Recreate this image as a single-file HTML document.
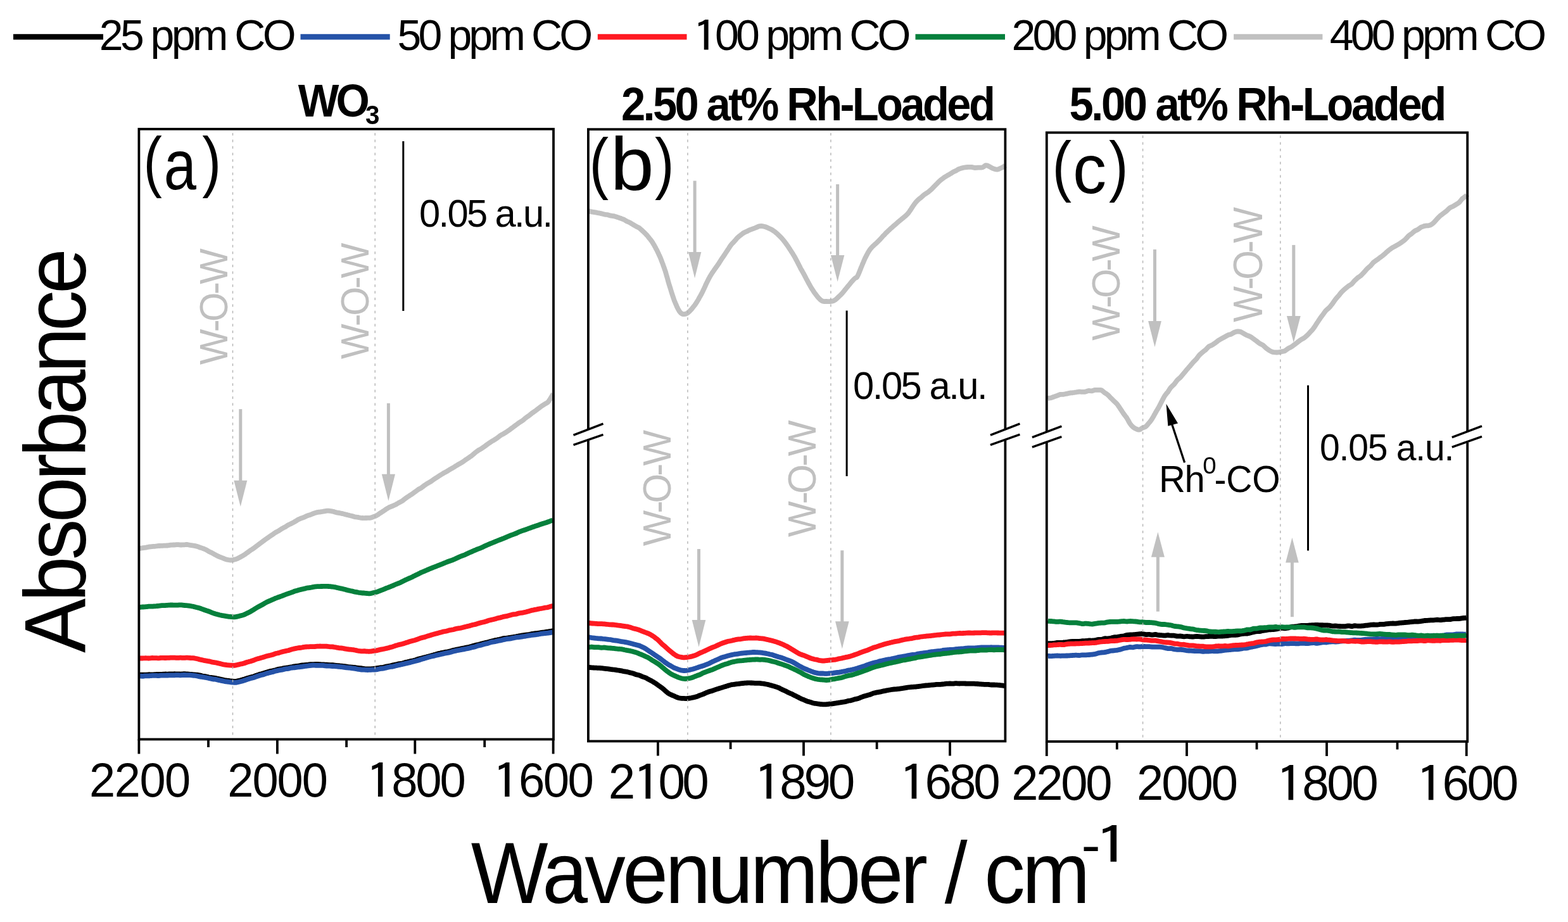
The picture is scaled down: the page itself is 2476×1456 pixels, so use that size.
<!DOCTYPE html>
<html><head><meta charset="utf-8"><title>FTIR spectra</title>
<style>html,body{margin:0;padding:0;background:#fff;overflow:hidden;} svg{display:block;}</style></head>
<body><svg width="2476" height="1456" viewBox="0 0 2476 1456">
<rect width="2476" height="1456" fill="#fff"/>
<rect x="21" y="53.8" width="142.0" height="8.8" fill="#000000"/>
<text transform="matrix(0.9997 0 0 1 156.80 78.90)" font-family='"Liberation Sans", Arial, Helvetica, sans-serif' font-weight="normal" font-size="68.00" letter-spacing="-4.60" fill="#000">25 ppm CO</text>
<rect x="474.5" y="53.8" width="141.2" height="8.8" fill="#2553A8"/>
<text transform="matrix(1.0005 0 0 1 627.58 78.90)" font-family='"Liberation Sans", Arial, Helvetica, sans-serif' font-weight="normal" font-size="68.00" letter-spacing="-4.91" fill="#000">50 ppm CO</text>
<rect x="943.8" y="53.8" width="140.7" height="8.8" fill="#FF1A22"/>
<text transform="matrix(1.0010 0 0 1 1092.93 78.90)" font-family='"Liberation Sans", Arial, Helvetica, sans-serif' font-weight="normal" font-size="68.00" letter-spacing="-4.80" fill="#000"><tspan font-family="IPAGothic" baseline-shift="-0.05em" textLength="0.5294em" lengthAdjust="spacingAndGlyphs">1</tspan>00 ppm CO</text>
<rect x="1445.5" y="53.8" width="141.5" height="8.8" fill="#06803C"/>
<text transform="matrix(0.9998 0 0 1 1597.40 78.90)" font-family='"Liberation Sans", Arial, Helvetica, sans-serif' font-weight="normal" font-size="68.00" letter-spacing="-4.73" fill="#000">200 ppm CO</text>
<rect x="1948.1" y="53.8" width="140.3" height="8.8" fill="#C0C0C0"/>
<text transform="matrix(0.9996 0 0 1 2099.70 78.90)" font-family='"Liberation Sans", Arial, Helvetica, sans-serif' font-weight="normal" font-size="68.00" letter-spacing="-4.77" fill="#000">400 ppm CO</text>
<text transform="matrix(0.9496 0 0 1 470.70 184.20)" font-family='"Liberation Sans", Arial, Helvetica, sans-serif' font-weight="bold" font-size="72.14" letter-spacing="-5.09" fill="#000">WO</text>
<text transform="matrix(0.9344 0 0 1 576.99 195.87)" font-family='"Liberation Sans", Arial, Helvetica, sans-serif' font-weight="bold" font-size="43.24" fill="#000">3</text>
<text transform="matrix(0.9299 0 0 1 980.90 189.80)" font-family='"Liberation Sans", Arial, Helvetica, sans-serif' font-weight="bold" font-size="73.86" letter-spacing="-3.89" fill="#000">2.50 at% Rh-Loaded</text>
<text transform="matrix(0.9298 0 0 1 1688.44 189.80)" font-family='"Liberation Sans", Arial, Helvetica, sans-serif' font-weight="bold" font-size="74.00" letter-spacing="-3.66" fill="#000">5.00 at% Rh-Loaded</text>
<path d="M220.3,1065.9L221.1,1065.8L222.0,1065.7L222.9,1065.7L223.9,1065.6L225.0,1065.6L226.1,1065.6L227.3,1065.6L228.6,1065.7L229.9,1065.7L231.2,1065.6L232.7,1065.5L234.1,1065.3L235.6,1065.2L237.1,1065.3L238.7,1065.3L240.3,1065.4L242.0,1065.3L243.7,1065.2L245.4,1065.1L247.1,1065.0L248.8,1064.9L250.6,1064.8L252.4,1064.8L254.2,1064.9L256.0,1064.9L257.8,1064.7L259.6,1064.6L261.4,1064.5L263.2,1064.6L265.0,1064.6L266.8,1064.5L268.6,1064.4L270.4,1064.3L272.1,1064.3L273.9,1064.3L275.6,1064.2L277.3,1064.3L279.0,1064.3L280.6,1064.4L282.2,1064.4L283.8,1064.5L285.3,1064.6L286.8,1064.4L288.3,1064.3L289.7,1064.2L291.0,1064.2L292.3,1064.2L293.6,1064.3L294.8,1064.3L295.9,1064.4L298.2,1064.6L300.4,1064.8L302.4,1065.0L304.3,1065.2L306.1,1065.4L307.8,1065.5L309.4,1065.6L310.9,1065.7L312.3,1065.9L313.7,1066.1L315.0,1066.3L316.3,1066.6L317.5,1066.9L318.7,1067.3L319.9,1067.6L321.1,1067.8L322.3,1067.9L323.5,1068.1L324.8,1068.2L326.0,1068.5L327.4,1068.8L328.7,1069.2L330.2,1069.6L331.7,1069.8L333.2,1069.9L334.8,1070.1L336.4,1070.3L338.0,1070.6L339.6,1070.9L341.2,1071.2L342.8,1071.5L344.4,1071.8L346.0,1072.2L347.6,1072.5L349.2,1072.9L350.8,1073.2L352.3,1073.6L353.8,1074.0L355.3,1074.4L356.8,1074.5L358.2,1074.6L359.5,1074.8L360.9,1074.9L362.1,1075.1L363.3,1075.3L364.5,1075.5L366.6,1075.7L368.2,1075.9L369.5,1076.0L370.6,1076.1L371.5,1076.1L372.5,1076.0L373.6,1075.7L375.0,1075.4L376.7,1075.0L378.9,1074.5L381.7,1073.7L382.7,1073.4L383.8,1073.1L384.9,1072.7L386.0,1072.4L387.3,1072.0L388.5,1071.6L389.8,1071.2L391.1,1070.8L392.5,1070.4L393.9,1070.0L395.4,1069.6L396.8,1069.2L398.3,1068.8L399.8,1068.4L401.4,1067.9L402.9,1067.3L404.5,1066.8L406.1,1066.2L407.7,1065.7L409.3,1065.1L411.0,1064.6L412.6,1064.2L414.2,1063.7L415.9,1063.2L417.5,1062.7L419.1,1062.2L420.7,1061.7L422.4,1061.2L424.0,1060.7L425.5,1060.3L427.1,1059.9L428.7,1059.6L430.2,1059.3L431.7,1058.9L433.2,1058.5L434.7,1058.2L436.3,1057.8L437.8,1057.3L439.4,1056.9L440.9,1056.6L442.5,1056.3L444.1,1056.0L445.7,1055.8L447.3,1055.4L448.9,1055.1L450.5,1054.8L452.1,1054.6L453.7,1054.4L455.3,1054.2L456.9,1053.9L458.4,1053.6L460.0,1053.3L461.6,1053.0L463.2,1052.6L464.7,1052.3L466.3,1052.1L467.8,1052.0L469.3,1051.9L470.8,1051.7L472.3,1051.4L473.8,1051.0L475.2,1050.7L476.6,1050.5L478.0,1050.4L479.4,1050.3L480.8,1050.2L482.1,1050.1L483.4,1050.0L484.7,1049.9L486.6,1049.7L488.5,1049.4L490.3,1049.1L492.0,1049.1L493.7,1049.1L495.3,1049.1L496.9,1049.0L498.5,1048.8L500.0,1048.8L501.5,1048.8L503.0,1049.0L504.4,1049.1L505.9,1049.2L507.3,1049.3L508.8,1049.4L510.2,1049.5L511.6,1049.5L513.1,1049.6L514.6,1049.6L516.0,1049.7L517.6,1049.8L519.1,1050.0L520.7,1050.1L522.2,1050.1L523.8,1050.1L525.3,1050.1L526.9,1050.3L528.5,1050.5L530.0,1050.8L531.6,1050.9L533.1,1051.1L534.7,1051.2L536.3,1051.4L537.8,1051.6L539.4,1051.7L540.9,1051.9L542.5,1052.1L544.0,1052.2L545.6,1052.4L547.2,1052.6L548.7,1052.9L550.3,1053.1L551.8,1053.3L553.4,1053.4L554.9,1053.6L556.5,1053.7L557.9,1053.8L559.4,1053.9L560.9,1054.1L562.3,1054.4L563.7,1054.6L565.1,1054.9L566.6,1055.0L568.0,1055.1L569.5,1055.2L570.9,1055.4L572.4,1055.7L574.0,1055.9L575.5,1056.2L577.1,1056.3L578.7,1056.3L580.4,1056.3L582.1,1056.4L583.9,1056.5L585.8,1056.4L587.7,1056.2L589.0,1056.1L590.3,1056.0L591.6,1055.7L593.0,1055.5L594.4,1055.2L595.8,1055.0L597.2,1054.8L598.7,1054.6L600.1,1054.4L601.6,1054.2L603.1,1054.0L604.6,1053.8L606.2,1053.5L607.7,1053.1L609.3,1052.6L610.8,1052.3L612.4,1052.1L614.0,1051.8L615.6,1051.6L617.2,1051.2L618.8,1050.8L620.4,1050.4L622.0,1050.0L623.6,1049.7L625.2,1049.3L626.8,1049.0L628.4,1048.6L630.0,1048.2L631.6,1048.0L633.1,1047.8L634.7,1047.6L636.2,1047.2L637.8,1046.7L639.3,1046.3L640.8,1045.8L642.2,1045.5L643.7,1045.2L645.2,1044.8L646.7,1044.5L648.1,1044.1L649.6,1043.8L651.1,1043.5L652.5,1043.2L654.0,1042.8L655.5,1042.5L657.0,1041.9L658.4,1041.4L659.9,1040.8L661.4,1040.4L662.8,1040.1L664.3,1039.7L665.8,1039.4L667.3,1039.0L668.7,1038.6L670.2,1038.2L671.7,1037.8L673.1,1037.5L674.6,1037.1L676.1,1036.7L677.6,1036.3L679.0,1035.9L680.5,1035.5L682.0,1035.1L683.4,1034.7L684.9,1034.3L686.4,1033.8L687.9,1033.4L689.3,1032.9L690.8,1032.5L692.3,1032.1L693.7,1031.8L695.2,1031.5L696.7,1031.1L698.2,1030.8L699.6,1030.5L701.1,1030.2L702.6,1029.9L704.0,1029.7L705.5,1029.5L707.0,1029.2L708.5,1028.9L709.9,1028.6L711.4,1028.1L712.9,1027.7L714.3,1027.2L715.8,1026.8L717.3,1026.5L718.8,1026.2L720.2,1025.9L721.7,1025.6L723.2,1025.3L724.6,1025.0L726.1,1024.7L727.6,1024.4L729.1,1024.1L730.5,1023.8L732.0,1023.5L733.5,1023.2L734.9,1022.9L736.4,1022.6L737.9,1022.3L739.4,1022.0L740.8,1021.7L742.3,1021.3L743.8,1020.9L745.2,1020.5L746.6,1020.1L748.0,1019.7L749.4,1019.3L750.8,1018.9L752.2,1018.6L753.5,1018.3L754.9,1018.0L756.2,1017.7L757.6,1017.3L758.9,1017.0L760.2,1016.6L761.6,1016.2L762.9,1015.9L764.3,1015.6L765.6,1015.2L767.0,1014.9L768.4,1014.6L769.8,1014.3L771.2,1013.9L772.7,1013.5L774.1,1013.1L775.6,1012.7L777.1,1012.3L778.6,1011.9L780.2,1011.5L781.7,1011.1L783.4,1010.8L785.0,1010.5L786.7,1010.1L788.4,1009.8L790.2,1009.4L792.0,1008.9L793.8,1008.4L795.1,1008.1L796.4,1008.0L797.7,1007.9L799.1,1007.8L800.5,1007.6L802.0,1007.4L803.5,1007.1L805.0,1006.8L806.6,1006.6L808.1,1006.3L809.8,1006.1L811.4,1005.8L813.0,1005.5L814.7,1005.3L816.4,1004.9L818.1,1004.6L819.9,1004.2L821.6,1004.0L823.3,1003.7L825.1,1003.4L826.9,1003.1L828.6,1002.8L830.4,1002.5L832.1,1002.3L833.9,1002.2L835.6,1002.0L837.4,1001.6L839.1,1001.2L840.8,1000.9L842.5,1000.7L844.2,1000.4L845.9,1000.2L847.5,1000.0L849.2,999.8L850.8,999.6L852.3,999.4L853.9,999.1L855.4,998.9L856.9,998.7L858.3,998.6L859.7,998.4L861.1,998.2L862.4,997.9L863.7,997.7L864.9,997.5L866.1,997.3L867.2,997.1L868.3,997.0L869.3,996.8L870.3,996.7L871.2,996.6L872.0,996.4L872.8,996.6" fill="none" stroke="#000000" stroke-width="7.8" stroke-linejoin="round" stroke-linecap="butt"/>
<path d="M220.3,1067.7L221.1,1067.6L222.0,1067.6L222.9,1067.7L223.9,1067.8L225.0,1067.8L226.1,1067.8L227.3,1067.6L228.6,1067.4L229.9,1067.3L231.2,1067.3L232.7,1067.3L234.1,1067.4L235.6,1067.4L237.1,1067.2L238.7,1067.1L240.3,1066.9L242.0,1066.9L243.7,1066.9L245.4,1066.8L247.1,1066.9L248.8,1067.1L250.6,1067.1L252.4,1066.9L254.2,1066.7L256.0,1066.6L257.8,1066.6L259.6,1066.6L261.4,1066.6L263.2,1066.5L265.0,1066.5L266.8,1066.4L268.6,1066.4L270.4,1066.3L272.1,1066.3L273.9,1066.3L275.6,1066.3L277.3,1066.2L279.0,1066.1L280.6,1066.1L282.2,1066.2L283.8,1066.3L285.3,1066.4L286.8,1066.2L288.3,1066.1L289.7,1066.0L291.0,1066.0L292.3,1066.0L293.6,1066.1L294.8,1066.1L295.9,1066.1L298.2,1066.2L300.4,1066.2L302.4,1066.4L304.3,1066.6L306.1,1066.8L307.8,1067.0L309.4,1067.2L310.9,1067.5L312.3,1067.8L313.7,1068.1L315.0,1068.4L316.3,1068.6L317.5,1068.8L318.7,1068.9L319.9,1069.1L321.1,1069.3L322.3,1069.5L323.5,1069.8L324.8,1070.0L326.0,1070.2L327.4,1070.5L328.7,1070.8L330.2,1071.1L331.7,1071.4L333.2,1071.8L334.8,1072.2L336.4,1072.5L338.0,1072.6L339.6,1072.7L341.2,1073.0L342.8,1073.4L344.4,1073.9L346.0,1074.2L347.6,1074.5L349.2,1074.8L350.8,1075.1L352.3,1075.4L353.8,1075.8L355.3,1076.1L356.8,1076.3L358.2,1076.5L359.5,1076.6L360.9,1076.8L362.1,1077.0L363.3,1077.2L364.5,1077.4L366.6,1077.6L368.2,1077.7L369.5,1077.8L370.6,1077.8L371.5,1077.8L372.5,1077.8L373.6,1077.6L375.0,1077.3L376.7,1077.0L378.9,1076.5L381.7,1075.8L382.7,1075.5L383.8,1075.2L384.9,1074.8L386.0,1074.4L387.3,1074.0L388.5,1073.6L389.8,1073.1L391.1,1072.7L392.5,1072.2L393.9,1071.8L395.4,1071.3L396.8,1071.0L398.3,1070.6L399.8,1070.3L401.4,1069.8L402.9,1069.2L404.5,1068.6L406.1,1068.0L407.7,1067.5L409.3,1066.9L411.0,1066.4L412.6,1066.0L414.2,1065.7L415.9,1065.2L417.5,1064.7L419.1,1064.1L420.7,1063.6L422.4,1063.1L424.0,1062.7L425.5,1062.3L427.1,1061.9L428.7,1061.5L430.2,1061.2L431.7,1060.7L433.2,1060.2L434.7,1059.8L436.3,1059.4L437.8,1059.1L439.4,1058.7L440.9,1058.4L442.5,1058.2L444.1,1058.0L445.7,1057.7L447.3,1057.3L448.9,1056.8L450.5,1056.4L452.1,1056.2L453.7,1056.1L455.3,1055.9L456.9,1055.5L458.4,1055.1L460.0,1054.7L461.6,1054.5L463.2,1054.4L464.7,1054.3L466.3,1054.1L467.8,1053.8L469.3,1053.6L470.8,1053.4L472.3,1053.3L473.8,1053.1L475.2,1053.0L476.6,1052.8L478.0,1052.6L479.4,1052.4L480.8,1052.2L482.1,1052.0L483.4,1051.8L484.7,1051.6L486.6,1051.4L488.5,1051.1L490.3,1051.0L492.0,1050.8L493.7,1050.7L495.3,1050.7L496.9,1050.7L498.5,1050.8L500.0,1050.8L501.5,1050.8L503.0,1050.9L504.4,1050.9L505.9,1050.9L507.3,1050.9L508.8,1050.9L510.2,1050.9L511.6,1051.1L513.1,1051.3L514.6,1051.5L516.0,1051.6L517.6,1051.7L519.1,1051.7L520.7,1051.7L522.2,1051.8L523.8,1052.0L525.3,1052.1L526.9,1052.2L528.5,1052.2L530.0,1052.3L531.6,1052.4L533.1,1052.6L534.7,1052.8L536.3,1052.9L537.8,1053.1L539.4,1053.2L540.9,1053.4L542.5,1053.6L544.0,1053.9L545.6,1054.1L547.2,1054.3L548.7,1054.4L550.3,1054.6L551.8,1054.7L553.4,1054.9L554.9,1055.1L556.5,1055.3L557.9,1055.5L559.4,1055.6L560.9,1055.9L562.3,1056.2L563.7,1056.5L565.1,1056.8L566.6,1057.0L568.0,1057.2L569.5,1057.4L570.9,1057.6L572.4,1057.6L574.0,1057.6L575.5,1057.7L577.1,1057.8L578.7,1057.9L580.4,1058.0L582.1,1057.9L583.9,1057.9L585.8,1057.8L587.7,1057.7L589.0,1057.7L590.3,1057.7L591.6,1057.6L593.0,1057.5L594.4,1057.3L595.8,1057.1L597.2,1056.8L598.7,1056.5L600.1,1056.1L601.6,1055.9L603.1,1055.8L604.6,1055.6L606.2,1055.3L607.7,1055.0L609.3,1054.6L610.8,1054.2L612.4,1053.8L614.0,1053.5L615.6,1053.1L617.2,1052.9L618.8,1052.8L620.4,1052.6L622.0,1052.1L623.6,1051.7L625.2,1051.3L626.8,1050.9L628.4,1050.5L630.0,1050.1L631.6,1049.8L633.1,1049.5L634.7,1049.2L636.2,1048.8L637.8,1048.4L639.3,1048.1L640.8,1047.7L642.2,1047.4L643.7,1047.1L645.2,1046.7L646.7,1046.4L648.1,1046.0L649.6,1045.6L651.1,1045.2L652.5,1044.8L654.0,1044.4L655.5,1044.0L657.0,1043.7L658.4,1043.3L659.9,1042.9L661.4,1042.5L662.8,1042.0L664.3,1041.5L665.8,1041.1L667.3,1040.6L668.7,1040.2L670.2,1039.7L671.7,1039.3L673.1,1038.9L674.6,1038.4L676.1,1038.0L677.6,1037.6L679.0,1037.2L680.5,1036.8L682.0,1036.5L683.4,1036.2L684.9,1035.9L686.4,1035.5L687.9,1035.1L689.3,1034.7L690.8,1034.3L692.3,1034.1L693.7,1033.8L695.2,1033.5L696.7,1033.1L698.2,1032.7L699.6,1032.4L701.1,1032.0L702.6,1031.7L704.0,1031.4L705.5,1031.2L707.0,1030.9L708.5,1030.6L709.9,1030.4L711.4,1029.9L712.9,1029.5L714.3,1029.0L715.8,1028.6L717.3,1028.3L718.8,1027.9L720.2,1027.6L721.7,1027.3L723.2,1027.0L724.6,1026.8L726.1,1026.5L727.6,1026.2L729.1,1025.9L730.5,1025.7L732.0,1025.4L733.5,1025.1L734.9,1024.8L736.4,1024.5L737.9,1024.2L739.4,1023.9L740.8,1023.6L742.3,1023.2L743.8,1022.7L745.2,1022.3L746.6,1022.1L748.0,1021.8L749.4,1021.6L750.8,1021.2L752.2,1020.7L753.5,1020.2L754.9,1019.7L756.2,1019.3L757.6,1019.1L758.9,1018.9L760.2,1018.7L761.6,1018.2L762.9,1017.7L764.3,1017.3L765.6,1016.8L767.0,1016.6L768.4,1016.3L769.8,1016.1L771.2,1015.6L772.7,1015.1L774.1,1014.6L775.6,1014.1L777.1,1013.9L778.6,1013.7L780.2,1013.5L781.7,1013.2L783.4,1012.8L785.0,1012.4L786.7,1012.0L788.4,1011.7L790.2,1011.4L792.0,1011.0L793.8,1010.5L795.1,1010.2L796.4,1009.9L797.7,1009.6L799.1,1009.3L800.5,1009.0L802.0,1008.9L803.5,1008.8L805.0,1008.7L806.6,1008.4L808.1,1008.0L809.8,1007.7L811.4,1007.3L813.0,1007.0L814.7,1006.6L816.4,1006.4L818.1,1006.3L819.9,1006.1L821.6,1005.9L823.3,1005.6L825.1,1005.3L826.9,1005.0L828.6,1004.8L830.4,1004.5L832.1,1004.2L833.9,1003.8L835.6,1003.5L837.4,1003.3L839.1,1003.0L840.8,1002.8L842.5,1002.6L844.2,1002.5L845.9,1002.3L847.5,1002.0L849.2,1001.8L850.8,1001.5L852.3,1001.2L853.9,1000.9L855.4,1000.7L856.9,1000.5L858.3,1000.4L859.7,1000.2L861.1,1000.1L862.4,999.9L863.7,999.8L864.9,999.7L866.1,999.5L867.2,999.4L868.3,999.2L869.3,999.0L870.3,998.9L871.2,998.7L872.0,998.6L872.8,998.4" fill="none" stroke="#2553A8" stroke-width="7.8" stroke-linejoin="round" stroke-linecap="butt"/>
<path d="M220.3,1039.6L221.1,1039.6L222.0,1039.5L222.9,1039.5L223.9,1039.5L225.0,1039.5L226.2,1039.4L227.4,1039.4L228.6,1039.3L230.0,1039.2L231.4,1039.3L232.8,1039.4L234.3,1039.5L235.8,1039.5L237.3,1039.3L238.9,1039.1L240.6,1039.0L242.2,1039.1L243.9,1039.1L245.7,1039.2L247.4,1039.2L249.2,1039.3L251.0,1039.3L252.8,1039.0L254.6,1038.8L256.4,1038.8L258.2,1038.9L260.0,1039.0L261.9,1039.0L263.7,1038.9L265.5,1038.9L267.3,1038.8L269.1,1038.6L270.9,1038.6L272.6,1038.6L274.4,1038.7L276.1,1038.7L277.8,1038.8L279.4,1038.8L281.1,1038.8L282.7,1038.8L284.2,1038.7L285.7,1038.7L287.2,1038.8L288.6,1038.8L290.0,1038.9L291.3,1038.9L292.5,1038.8L293.7,1038.7L294.8,1038.7L295.9,1038.7L298.6,1038.8L301.0,1039.0L303.1,1039.1L305.0,1039.2L306.7,1039.4L308.2,1039.7L309.6,1040.0L310.8,1040.2L312.0,1040.5L313.1,1040.8L314.1,1041.1L315.2,1041.5L316.3,1041.7L317.4,1041.9L318.7,1042.2L320.1,1042.4L321.6,1042.8L323.3,1043.1L324.6,1043.4L326.0,1043.6L327.5,1043.9L329.0,1044.1L330.5,1044.4L332.1,1044.8L333.7,1045.2L335.3,1045.6L337.0,1045.8L338.7,1046.1L340.3,1046.3L342.0,1046.7L343.7,1047.1L345.3,1047.5L347.0,1047.9L348.6,1048.3L350.2,1048.7L351.7,1049.1L353.2,1049.4L354.7,1049.6L356.1,1049.9L357.5,1050.0L358.7,1050.2L360.0,1050.3L361.1,1050.4L363.4,1050.6L365.2,1050.7L366.7,1050.8L368.0,1050.9L369.2,1050.9L370.3,1050.8L371.4,1050.6L372.7,1050.4L374.2,1050.0L376.0,1049.6L378.3,1049.1L379.4,1048.8L380.5,1048.5L381.6,1048.3L382.8,1048.1L384.1,1047.8L385.3,1047.5L386.6,1047.0L387.9,1046.5L389.3,1046.0L390.7,1045.5L392.1,1045.2L393.5,1044.8L395.0,1044.5L396.5,1044.0L398.0,1043.5L399.6,1043.0L401.1,1042.5L402.7,1041.8L404.3,1041.1L405.9,1040.6L407.6,1040.1L409.2,1039.7L410.9,1039.2L412.6,1038.7L414.3,1038.3L416.0,1037.8L417.3,1037.3L418.6,1036.9L420.0,1036.4L421.4,1036.0L422.8,1035.7L424.2,1035.4L425.7,1035.0L427.2,1034.7L428.7,1034.3L430.2,1034.0L431.8,1033.4L433.3,1032.8L434.9,1032.2L436.5,1031.8L438.0,1031.5L439.6,1031.1L441.2,1030.7L442.8,1030.1L444.4,1029.6L446.0,1029.2L447.5,1028.8L449.1,1028.5L450.7,1028.2L452.2,1027.8L453.7,1027.5L455.2,1027.2L456.7,1026.7L458.2,1026.2L459.6,1025.8L461.0,1025.3L462.4,1025.0L463.8,1024.7L465.1,1024.3L466.4,1024.1L467.6,1023.8L469.5,1023.5L471.4,1023.2L473.2,1023.0L475.0,1022.8L476.8,1022.5L478.5,1022.1L480.1,1021.8L481.8,1021.6L483.4,1021.5L484.9,1021.4L486.5,1021.3L488.0,1021.3L489.5,1021.2L490.9,1021.2L492.3,1021.2L493.8,1021.2L495.1,1021.2L496.5,1021.1L497.9,1021.0L499.2,1020.8L500.6,1020.7L501.9,1020.6L503.7,1020.6L505.4,1020.5L507.0,1020.6L508.5,1020.6L510.0,1020.7L511.5,1020.6L512.9,1020.6L514.3,1020.6L515.7,1020.6L517.1,1020.8L518.5,1021.0L519.9,1021.2L521.3,1021.3L522.8,1021.3L524.3,1021.4L525.9,1021.5L527.3,1021.8L528.8,1022.0L530.3,1022.3L531.8,1022.6L533.3,1022.8L534.8,1023.1L536.3,1023.3L537.9,1023.4L539.4,1023.5L541.0,1023.7L542.5,1024.0L544.1,1024.4L545.7,1024.7L547.2,1025.0L548.8,1025.2L550.3,1025.4L551.9,1025.6L553.4,1025.7L554.9,1025.8L556.5,1026.0L558.0,1026.2L559.6,1026.5L561.1,1026.8L562.7,1027.1L564.3,1027.5L565.8,1027.8L567.4,1028.0L568.9,1028.2L570.5,1028.3L572.0,1028.3L573.5,1028.3L575.0,1028.2L576.5,1028.4L578.0,1028.5L579.5,1028.7L580.9,1028.7L582.5,1028.8L584.0,1028.7L585.5,1028.7L586.9,1028.4L588.3,1028.2L589.7,1027.9L591.1,1027.7L592.5,1027.6L593.9,1027.4L595.3,1027.2L596.7,1026.8L598.3,1026.4L599.8,1026.0L601.4,1025.6L603.1,1025.3L604.9,1025.0L606.2,1024.8L607.5,1024.5L608.7,1024.2L610.1,1024.0L611.4,1023.6L612.7,1023.3L614.1,1022.9L615.4,1022.5L616.8,1022.1L618.2,1021.8L619.7,1021.4L621.1,1020.9L622.6,1020.4L624.1,1019.8L625.7,1019.3L627.2,1018.9L628.8,1018.4L630.5,1018.0L632.2,1017.6L633.9,1017.2L635.7,1016.8L637.5,1016.2L639.3,1015.6L640.5,1015.2L641.8,1014.8L643.1,1014.4L644.4,1014.0L645.8,1013.5L647.1,1013.1L648.5,1012.7L649.9,1012.3L651.3,1011.9L652.8,1011.5L654.2,1011.2L655.7,1010.8L657.2,1010.3L658.7,1009.7L660.2,1009.2L661.7,1008.6L663.2,1008.0L664.7,1007.5L666.3,1007.1L667.8,1006.7L669.4,1006.4L670.9,1006.0L672.5,1005.4L674.0,1004.9L675.6,1004.3L677.1,1003.9L678.7,1003.5L680.2,1003.0L681.8,1002.5L683.3,1002.1L684.8,1001.6L686.3,1001.2L687.8,1000.8L689.3,1000.4L690.8,1000.1L692.3,999.6L693.7,999.2L695.2,998.8L696.7,998.4L698.2,998.0L699.6,997.6L701.1,997.3L702.6,997.0L704.0,996.8L705.5,996.5L707.0,996.1L708.5,995.6L709.9,995.2L711.4,995.0L712.9,994.7L714.3,994.5L715.8,994.2L717.3,993.8L718.8,993.3L720.2,992.8L721.7,992.6L723.2,992.4L724.6,992.2L726.1,992.0L727.6,991.7L729.1,991.3L730.5,991.0L732.0,990.6L733.5,990.2L734.9,989.8L736.4,989.5L737.9,989.1L739.4,988.8L740.8,988.5L742.3,988.0L743.8,987.6L745.2,987.1L746.6,986.8L748.0,986.5L749.4,986.2L750.8,985.9L752.2,985.5L753.5,985.1L754.9,984.6L756.2,984.2L757.6,983.8L758.9,983.4L760.2,983.0L761.6,982.8L762.9,982.5L764.3,982.2L765.6,981.9L767.0,981.4L768.4,981.0L769.8,980.5L771.2,980.0L772.7,979.6L774.1,979.2L775.6,978.9L777.1,978.5L778.6,978.2L780.2,977.9L781.7,977.4L783.4,976.9L785.0,976.4L786.7,976.0L788.4,975.6L790.2,975.3L792.0,974.7L793.8,974.2L795.1,973.8L796.4,973.6L797.7,973.4L799.1,973.2L800.5,972.9L802.0,972.5L803.5,972.1L805.0,971.6L806.6,971.2L808.1,970.8L809.8,970.4L811.4,970.2L813.0,970.0L814.7,969.8L816.4,969.4L818.1,968.8L819.9,968.3L821.6,968.0L823.3,967.8L825.1,967.6L826.9,967.2L828.6,966.8L830.4,966.5L832.1,966.0L833.9,965.5L835.6,965.1L837.4,964.6L839.1,964.1L840.8,963.6L842.5,963.3L844.2,962.9L845.9,962.6L847.5,962.3L849.2,961.9L850.8,961.6L852.3,961.3L853.9,961.0L855.4,960.8L856.9,960.5L858.3,960.2L859.7,959.9L861.1,959.7L862.4,959.5L863.7,959.3L864.9,959.1L866.1,958.8L867.2,958.4L868.3,958.1L869.3,957.8L870.3,957.6L871.2,957.3L872.0,957.1L872.8,957.1" fill="none" stroke="#FF1A22" stroke-width="7.8" stroke-linejoin="round" stroke-linecap="butt"/>
<path d="M220.3,958.9L221.1,958.9L222.0,958.8L223.0,958.7L224.0,958.6L225.1,958.5L226.3,958.5L227.6,958.4L229.0,958.3L230.4,958.2L231.8,958.1L233.3,957.9L234.9,957.7L236.5,957.6L238.1,957.6L239.8,957.6L241.5,957.6L243.2,957.4L244.9,957.3L246.7,957.2L248.5,957.0L250.2,956.8L252.0,956.6L253.8,956.4L255.6,956.2L257.4,956.2L259.1,956.1L260.8,956.1L262.6,955.9L264.2,955.8L265.9,955.7L267.5,955.6L269.1,955.5L270.6,955.5L272.1,955.5L273.6,955.6L274.9,955.7L276.3,955.7L277.5,955.7L278.7,955.7L280.9,955.6L282.9,955.4L284.8,955.3L286.6,955.4L288.4,955.6L290.0,955.9L291.5,956.0L293.0,956.1L294.5,956.2L295.9,956.3L297.2,956.5L298.6,956.6L299.9,956.8L301.2,957.0L302.5,957.3L303.9,957.5L305.2,957.8L306.6,958.2L308.1,958.6L309.6,959.0L311.1,959.3L312.6,959.7L314.1,960.1L315.6,960.5L317.1,961.0L318.6,961.6L320.1,962.1L321.6,962.7L323.1,963.2L324.6,963.8L326.1,964.3L327.6,964.7L329.1,965.2L330.6,965.7L332.1,966.4L333.5,967.0L334.9,967.6L336.4,968.1L337.8,968.6L339.1,969.1L340.5,969.5L342.2,969.9L343.8,970.4L345.4,970.8L347.0,971.2L348.5,971.5L350.1,971.9L351.6,972.2L353.1,972.4L354.6,972.6L356.1,972.9L357.6,973.2L359.0,973.4L360.5,973.6L361.9,973.8L363.4,973.9L364.8,974.0L366.2,974.2L367.8,974.3L369.3,974.4L370.7,974.4L372.1,974.2L373.5,973.9L374.8,973.6L376.2,973.3L377.5,973.0L378.9,972.6L380.4,972.2L381.9,971.8L383.4,971.4L385.0,970.9L386.8,970.1L388.6,969.2L389.7,968.6L390.8,968.1L392.0,967.6L393.1,967.0L394.3,966.4L395.5,965.8L396.7,965.1L397.9,964.3L399.2,963.6L400.5,962.8L401.7,962.0L403.0,961.1L404.4,960.3L405.7,959.5L407.0,958.7L408.4,958.0L409.8,957.3L411.2,956.5L412.6,955.8L414.0,955.0L415.5,954.2L416.9,953.3L418.4,952.4L419.9,951.6L421.4,950.8L422.9,950.1L424.2,949.5L425.5,949.0L426.9,948.4L428.2,947.8L429.6,947.2L431.1,946.6L432.5,945.9L434.0,945.3L435.4,944.6L436.9,944.1L438.4,943.5L439.9,943.0L441.4,942.5L443.0,941.9L444.5,941.4L446.0,940.8L447.5,940.2L449.1,939.6L450.6,939.0L452.1,938.4L453.6,937.9L455.1,937.3L456.5,936.8L458.0,936.4L459.4,935.9L460.9,935.4L462.3,934.8L463.6,934.3L465.0,933.7L466.3,933.3L467.6,933.0L469.3,932.6L471.0,932.1L472.7,931.6L474.3,931.1L475.9,930.7L477.5,930.4L479.1,930.0L480.7,929.7L482.3,929.2L483.8,928.8L485.3,928.4L486.8,928.3L488.3,928.1L489.7,928.0L491.1,927.7L492.6,927.4L493.9,927.1L495.3,926.8L496.7,926.6L498.0,926.4L499.3,926.3L500.6,926.2L501.9,926.1L503.7,926.1L505.4,926.1L507.0,926.0L508.5,926.0L510.0,925.9L511.5,925.9L512.9,925.8L514.3,925.8L515.7,925.8L517.1,925.9L518.5,926.0L519.9,926.1L521.3,926.2L522.8,926.4L524.3,926.6L525.9,926.7L527.4,927.0L528.8,927.2L530.4,927.5L531.9,927.9L533.5,928.3L535.1,928.7L536.7,929.0L538.3,929.3L539.9,929.7L541.5,930.0L543.0,930.4L544.6,930.8L546.2,931.2L547.7,931.7L549.2,932.1L550.6,932.5L552.0,932.7L553.4,933.0L555.2,933.3L557.0,933.7L558.7,934.2L560.4,934.6L562.0,934.9L563.6,935.2L565.1,935.5L566.6,935.8L568.1,936.0L569.6,936.2L571.1,936.4L572.5,936.5L574.0,936.5L575.6,936.6L577.1,936.8L578.4,936.9L579.6,937.1L580.9,937.2L582.2,937.3L583.6,937.3L585.1,937.2L586.9,936.8L588.9,936.3L591.2,935.7L592.2,935.5L593.3,935.2L594.5,935.0L595.6,934.6L596.8,934.2L598.1,933.7L599.4,933.2L600.7,932.6L602.0,932.1L603.4,931.6L604.8,931.1L606.2,930.5L607.7,929.9L609.1,929.2L610.6,928.6L612.1,928.1L613.6,927.5L615.1,927.0L616.7,926.3L618.2,925.7L619.7,925.1L621.3,924.4L622.8,923.7L624.4,923.0L625.9,922.4L627.5,921.8L629.0,921.2L630.3,920.8L631.6,920.2L632.9,919.6L634.2,918.9L635.5,918.3L636.8,917.6L638.2,916.9L639.5,916.2L640.9,915.6L642.2,915.0L643.6,914.4L644.9,913.8L646.3,913.2L647.7,912.6L649.1,912.0L650.4,911.4L651.8,910.7L653.2,909.9L654.7,909.2L656.1,908.5L657.5,907.8L658.9,907.2L660.4,906.5L661.8,905.7L663.3,905.0L664.7,904.2L666.2,903.6L667.6,903.0L669.1,902.4L670.6,901.8L672.1,901.1L673.6,900.5L674.9,899.9L676.3,899.3L677.7,898.7L679.0,898.2L680.4,897.6L681.8,897.0L683.2,896.5L684.6,895.9L686.0,895.4L687.4,894.8L688.8,894.3L690.3,893.7L691.7,893.2L693.1,892.6L694.6,892.0L696.0,891.5L697.5,890.9L698.9,890.3L700.4,889.7L701.8,889.1L703.3,888.5L704.8,887.9L706.2,887.3L707.7,886.8L709.1,886.2L710.6,885.7L712.1,885.2L713.5,884.8L715.0,884.3L716.4,883.6L717.9,883.0L719.3,882.3L720.8,881.6L722.2,880.9L723.7,880.3L725.1,879.6L726.5,879.0L727.9,878.4L729.3,877.9L730.7,877.3L732.1,876.8L733.5,876.3L734.8,875.8L736.2,875.1L737.6,874.4L739.0,873.8L740.4,873.1L741.8,872.5L743.2,871.9L744.6,871.3L746.0,870.7L747.4,870.0L748.8,869.4L750.2,868.8L751.5,868.3L752.9,867.7L754.3,867.1L755.7,866.6L757.1,866.1L758.5,865.6L759.9,865.0L761.3,864.4L762.7,863.7L764.1,863.0L765.5,862.3L766.9,861.7L768.2,861.1L769.6,860.5L771.0,859.9L772.4,859.3L773.8,858.7L775.2,858.1L776.6,857.6L778.0,857.0L779.5,856.4L780.9,855.8L782.4,855.2L783.8,854.6L785.3,854.0L786.7,853.4L788.2,852.9L789.6,852.3L791.1,851.8L792.6,851.2L794.0,850.6L795.5,850.1L796.9,849.4L798.4,848.8L799.9,848.2L801.3,847.5L802.8,846.9L804.2,846.3L805.7,845.7L807.1,845.1L808.6,844.6L810.0,844.1L811.4,843.6L812.9,843.0L814.3,842.5L815.7,842.0L817.1,841.3L818.5,840.6L819.9,839.9L821.3,839.4L822.7,838.9L824.0,838.4L825.4,837.9L826.8,837.4L828.1,837.0L829.7,836.5L831.3,835.9L832.9,835.3L834.5,834.7L836.2,834.1L837.9,833.5L839.5,832.9L841.2,832.3L842.9,831.7L844.6,831.1L846.3,830.6L848.0,830.0L849.6,829.5L851.2,828.9L852.9,828.3L854.5,827.7L856.0,827.2L857.6,826.7L859.1,826.3L860.5,825.8L861.9,825.4L863.3,825.0L864.6,824.5L865.9,824.1L867.1,823.6L868.2,823.2L869.3,822.7L870.3,822.3L871.2,822.1L872.0,821.8L872.8,821.5" fill="none" stroke="#06803C" stroke-width="7.8" stroke-linejoin="round" stroke-linecap="butt"/>
<path d="M220.3,866.1L221.1,866.0L222.0,865.8L222.9,865.7L224.0,865.5L225.1,865.3L226.3,865.1L227.7,865.0L229.1,864.8L230.6,864.6L232.2,864.2L234.0,863.9L235.8,863.5L237.7,863.3L239.8,863.1L242.0,862.9L244.3,862.8L245.4,862.7L246.7,862.5L247.9,862.3L249.3,862.1L250.7,862.0L252.1,862.0L253.6,861.9L255.1,861.9L256.7,861.8L258.3,861.7L259.9,861.7L261.6,861.6L263.3,861.5L265.0,861.5L266.7,861.2L268.4,860.9L270.1,860.6L271.8,860.6L273.5,860.5L275.2,860.5L276.9,860.4L278.6,860.2L280.3,860.1L281.9,860.2L283.5,860.4L285.1,860.5L286.6,860.5L288.1,860.4L289.5,860.4L290.9,860.3L292.3,860.2L293.5,860.0L294.8,859.9L295.9,860.0L298.2,860.5L300.2,860.9L302.1,861.1L303.8,861.4L305.3,861.6L306.8,861.8L308.1,862.1L309.4,862.4L310.6,862.7L311.9,863.1L313.1,863.5L314.3,864.0L315.6,864.5L316.9,864.9L318.4,865.4L319.9,865.9L321.2,866.3L322.5,866.9L323.9,867.5L325.3,868.1L326.7,868.9L328.2,869.8L329.6,870.7L331.1,871.5L332.5,872.1L334.0,872.8L335.4,873.5L336.9,874.4L338.3,875.2L339.7,875.9L341.1,876.7L342.4,877.4L343.7,878.0L345.0,878.7L346.2,879.2L347.4,879.6L349.3,880.3L351.0,881.0L352.7,881.7L354.3,882.4L355.8,883.0L357.3,883.4L358.8,883.8L360.2,884.0L361.7,884.3L363.2,884.5L364.7,884.6L366.2,884.5L367.6,884.3L369.0,884.0L370.3,883.6L371.6,883.3L372.9,882.9L374.2,882.4L375.6,881.8L377.0,881.1L378.4,880.3L379.9,879.5L381.5,878.6L383.3,877.6L385.1,876.5L386.1,875.9L387.2,875.2L388.2,874.4L389.3,873.6L390.5,872.8L391.6,872.0L392.8,871.1L394.0,870.2L395.2,869.3L396.4,868.5L397.7,867.7L398.9,866.9L400.2,866.1L401.5,865.1L402.8,864.1L404.1,863.1L405.4,862.1L406.8,861.1L408.1,860.1L409.4,859.1L410.7,858.1L412.1,857.1L413.4,856.1L414.7,855.2L416.0,854.2L417.2,853.3L418.4,852.4L419.7,851.5L420.9,850.6L422.2,849.7L423.4,848.9L424.7,848.0L425.9,847.1L427.2,846.3L428.5,845.4L429.8,844.6L431.1,843.7L432.3,842.8L433.6,841.9L434.9,841.0L436.2,840.3L437.5,839.6L438.8,838.9L440.1,838.2L441.4,837.4L442.7,836.5L444.0,835.6L445.3,834.8L446.6,834.1L447.8,833.4L449.1,832.7L450.4,832.1L451.8,831.2L453.2,830.3L454.6,829.4L456.0,828.6L457.4,828.0L458.9,827.3L460.3,826.7L461.7,825.9L463.2,825.1L464.6,824.3L466.1,823.5L467.5,822.6L468.9,821.7L470.3,820.8L471.7,820.1L473.1,819.5L474.5,818.9L475.8,818.3L477.2,817.9L478.5,817.4L479.8,817.0L481.1,816.4L482.3,815.8L483.5,815.2L484.7,814.6L486.5,814.0L488.2,813.4L490.0,812.9L491.6,812.3L493.2,811.6L494.8,811.0L496.3,810.4L497.8,809.9L499.3,809.5L500.7,809.1L502.1,808.9L503.5,808.7L504.9,808.6L506.2,808.4L507.5,808.2L508.8,808.0L510.6,807.7L512.2,807.4L513.7,807.1L515.1,806.8L516.5,806.7L517.8,806.7L519.2,806.7L520.7,806.8L522.3,807.0L524.0,807.3L525.9,807.7L527.2,808.1L528.5,808.5L530.0,808.9L531.4,809.3L533.0,809.6L534.6,809.9L536.2,810.2L537.8,810.5L539.4,810.8L541.1,811.1L542.7,811.6L544.4,812.1L546.0,812.5L547.6,812.9L549.1,813.3L550.6,813.6L552.0,814.0L553.4,814.3L555.2,814.6L557.0,815.2L558.7,815.8L560.4,816.3L562.0,816.5L563.6,816.7L565.1,816.8L566.6,817.2L568.1,817.5L569.6,817.8L571.1,818.0L572.5,818.0L574.0,818.1L575.7,818.1L577.3,818.0L578.8,818.0L580.3,817.9L581.8,817.9L583.2,817.9L584.7,817.8L586.3,817.4L587.8,816.8L589.5,816.1L591.2,815.5L592.4,815.1L593.6,814.6L594.8,814.0L596.1,813.2L597.4,812.4L598.7,811.4L600.1,810.4L601.4,809.6L602.8,808.8L604.1,807.9L605.5,807.0L606.8,806.1L608.1,805.2L609.4,804.3L610.7,803.4L612.0,802.7L613.2,802.0L614.6,801.2L616.0,800.6L617.4,800.0L618.8,799.5L620.1,799.1L621.4,798.4L622.7,797.8L624.0,797.2L625.4,796.5L626.7,795.8L628.0,795.0L629.3,794.2L630.7,793.4L632.1,792.7L633.3,792.1L634.6,791.4L635.8,790.6L637.1,789.6L638.3,788.6L639.6,787.6L640.8,786.7L642.1,785.8L643.4,784.9L644.7,784.0L646.0,783.2L647.3,782.3L648.6,781.5L650.0,780.6L651.3,779.7L652.7,778.7L653.9,777.8L655.2,776.9L656.5,776.0L657.8,775.0L659.1,774.0L660.4,773.0L661.7,772.3L663.0,771.6L664.4,770.9L665.7,770.1L667.0,769.0L668.4,768.0L669.7,766.9L671.1,766.0L672.4,765.1L673.7,764.2L675.1,763.4L676.4,762.6L677.7,761.9L679.0,761.1L680.4,760.4L681.7,759.4L683.0,758.5L684.3,757.5L685.6,756.6L686.9,755.8L688.2,754.9L689.6,754.1L690.9,753.3L692.2,752.4L693.5,751.5L694.8,750.6L696.2,749.8L697.5,749.0L698.8,748.2L700.1,747.4L701.4,746.6L702.8,745.9L704.1,745.2L705.5,744.5L706.9,743.6L708.3,742.7L709.7,741.8L711.1,741.0L712.4,740.2L713.8,739.5L715.2,738.8L716.5,738.0L717.8,737.1L719.1,736.3L720.3,735.5L721.5,734.8L722.7,734.1L723.8,733.4L725.4,732.5L726.9,731.7L728.3,730.9L729.7,730.1L730.9,729.3L732.2,728.4L733.4,727.5L734.6,726.6L735.8,725.8L737.1,725.0L738.3,724.1L739.6,723.2L740.8,722.4L742.0,721.6L743.2,720.8L744.4,720.0L745.5,719.1L746.7,718.0L747.9,717.0L749.1,716.0L750.3,714.9L751.5,714.0L752.8,713.0L754.1,712.1L755.4,711.1L756.6,710.5L757.8,709.8L759.0,709.1L760.3,708.4L761.5,707.5L762.8,706.6L764.1,705.8L765.4,704.9L766.7,703.9L768.0,702.9L769.3,701.9L770.6,701.0L771.8,700.1L773.1,699.3L774.3,698.5L775.6,697.6L776.9,696.8L778.2,696.0L779.6,695.3L780.9,694.4L782.2,693.6L783.5,692.7L784.8,691.9L786.0,691.0L787.2,690.0L788.4,689.1L789.6,688.2L790.7,687.4L791.7,686.8L793.4,685.9L794.8,685.2L796.1,684.4L797.4,683.6L798.6,682.9L799.8,682.1L801.2,681.1L802.8,680.0L804.0,679.2L805.2,678.3L806.4,677.4L807.7,676.4L809.1,675.5L810.4,674.5L811.8,673.4L813.2,672.4L814.5,671.3L815.9,670.3L817.3,669.3L818.6,668.3L819.8,667.5L821.0,666.7L822.2,665.9L823.5,665.2L824.7,664.5L825.9,663.6L827.1,662.6L828.3,661.5L829.5,660.4L830.8,659.5L832.0,658.6L833.2,657.8L834.4,657.0L835.6,656.1L836.9,655.1L838.2,654.0L839.5,652.9L840.8,651.9L842.1,651.1L843.3,650.2L844.6,649.4L845.8,648.5L847.0,647.6L848.1,646.7L849.2,645.8L850.2,645.1L851.9,643.8L853.4,642.7L854.8,641.7L856.1,640.8L857.3,640.0L858.5,639.2L859.6,638.5L861.1,637.6L862.3,636.9L863.5,636.3L864.7,635.5L866.0,634.1L866.8,633.0L867.7,631.6L868.7,630.1L869.7,628.4L870.6,626.9L871.5,625.4L872.3,624.1L873.0,623.0L873.5,622.5" fill="none" stroke="#C0C0C0" stroke-width="7.8" stroke-linejoin="round" stroke-linecap="butt"/>
<path d="M929.6,1053.8L930.4,1053.9L931.3,1054.0L932.3,1054.1L933.4,1054.2L934.6,1054.3L935.9,1054.4L937.3,1054.5L938.7,1054.6L940.2,1054.7L941.7,1054.7L943.3,1054.8L944.9,1054.8L946.6,1054.9L948.3,1055.0L950.0,1055.2L951.8,1055.4L953.5,1055.6L955.3,1055.8L957.1,1056.0L958.8,1056.1L960.6,1056.3L962.3,1056.6L964.0,1056.9L965.7,1057.1L967.4,1057.3L969.0,1057.5L970.6,1057.7L972.1,1057.9L973.5,1058.1L974.9,1058.3L976.6,1058.5L978.2,1058.8L979.9,1059.1L981.5,1059.4L983.2,1059.8L984.8,1060.1L986.3,1060.3L987.9,1060.6L989.5,1060.8L991.0,1061.2L992.5,1061.6L994.0,1062.1L995.5,1062.4L997.0,1062.7L998.4,1063.1L999.9,1063.5L1001.3,1064.0L1002.7,1064.5L1004.0,1065.1L1005.4,1065.4L1006.7,1065.7L1008.0,1066.0L1009.3,1066.3L1010.6,1066.8L1012.3,1067.6L1013.8,1068.3L1015.4,1068.9L1016.9,1069.4L1018.4,1069.9L1019.8,1070.4L1021.2,1071.2L1022.5,1072.0L1023.9,1072.7L1025.2,1073.4L1026.5,1074.1L1027.8,1074.7L1029.0,1075.4L1030.3,1076.1L1031.6,1076.9L1032.8,1077.7L1034.1,1078.4L1035.4,1079.3L1036.7,1080.2L1038.0,1081.1L1039.2,1082.1L1040.5,1083.0L1041.8,1083.8L1043.0,1084.7L1044.3,1085.6L1045.5,1086.6L1046.7,1087.6L1047.9,1088.6L1049.1,1089.6L1050.3,1090.7L1051.5,1091.7L1052.7,1092.7L1053.8,1093.7L1055.0,1094.6L1056.2,1095.3L1057.3,1095.9L1058.9,1096.7L1060.4,1097.4L1061.9,1098.1L1063.4,1098.7L1064.9,1099.3L1066.3,1100.0L1067.8,1100.7L1069.2,1101.3L1070.7,1101.8L1072.1,1102.2L1073.6,1102.5L1075.0,1102.7L1076.5,1102.8L1078.1,1102.8L1079.6,1102.8L1081.1,1103.0L1082.5,1103.1L1084.0,1103.1L1085.5,1103.0L1087.0,1102.9L1088.6,1102.6L1090.2,1102.3L1092.0,1102.0L1093.8,1101.6L1095.8,1101.2L1097.0,1101.0L1098.2,1100.6L1099.5,1100.3L1100.8,1099.8L1102.1,1099.3L1103.5,1098.7L1104.9,1098.1L1106.3,1097.7L1107.7,1097.2L1109.1,1096.7L1110.6,1096.1L1112.1,1095.4L1113.6,1094.7L1115.1,1094.0L1116.7,1093.4L1118.2,1092.8L1119.7,1092.3L1121.3,1091.8L1122.9,1091.4L1124.4,1091.0L1126.0,1090.4L1127.4,1089.9L1128.8,1089.4L1130.2,1088.9L1131.7,1088.4L1133.1,1087.9L1134.6,1087.5L1136.1,1087.0L1137.6,1086.6L1139.1,1086.1L1140.6,1085.6L1142.2,1085.1L1143.7,1084.6L1145.2,1084.2L1146.7,1083.7L1148.3,1083.3L1149.8,1082.8L1151.3,1082.3L1152.8,1081.9L1154.4,1081.4L1155.8,1081.2L1157.3,1081.0L1158.8,1080.8L1160.3,1080.6L1161.7,1080.4L1163.3,1080.2L1165.0,1080.0L1166.6,1079.8L1168.2,1079.6L1169.8,1079.4L1171.5,1079.2L1173.1,1079.0L1174.7,1078.9L1176.3,1078.7L1177.9,1078.6L1179.5,1078.5L1181.0,1078.4L1182.6,1078.4L1184.1,1078.4L1185.7,1078.5L1187.2,1078.5L1188.7,1078.6L1190.2,1078.7L1191.7,1078.8L1193.2,1078.8L1194.6,1078.9L1196.3,1078.9L1197.9,1078.9L1199.5,1078.9L1201.1,1079.1L1202.6,1079.3L1204.2,1079.5L1205.7,1079.7L1207.2,1079.9L1208.7,1080.2L1210.2,1080.5L1211.7,1080.8L1213.1,1081.1L1214.6,1081.5L1216.1,1081.9L1217.6,1082.3L1219.1,1082.8L1220.6,1083.2L1222.1,1083.6L1223.5,1084.0L1224.9,1084.4L1226.2,1084.8L1227.6,1085.3L1229.0,1085.8L1230.4,1086.4L1231.7,1087.2L1233.1,1087.9L1234.5,1088.7L1235.9,1089.3L1237.2,1089.9L1238.6,1090.5L1240.0,1091.1L1241.4,1091.8L1242.7,1092.5L1244.1,1093.2L1245.5,1093.9L1246.9,1094.5L1248.2,1095.1L1249.6,1095.6L1251.0,1096.3L1252.3,1097.0L1253.7,1097.7L1255.1,1098.4L1256.5,1099.0L1257.8,1099.7L1259.2,1100.4L1260.6,1101.1L1261.9,1101.9L1263.3,1102.6L1264.7,1103.3L1266.0,1103.9L1267.4,1104.4L1268.8,1104.9L1270.1,1105.5L1271.5,1106.1L1272.9,1106.7L1274.3,1107.3L1275.6,1107.8L1277.0,1108.1L1278.5,1108.5L1280.0,1108.9L1281.4,1109.4L1282.8,1109.9L1284.2,1110.3L1285.7,1110.6L1287.1,1110.8L1288.5,1111.0L1289.9,1111.2L1291.3,1111.5L1292.8,1111.7L1294.3,1111.9L1295.9,1112.1L1297.5,1112.2L1299.1,1112.3L1300.8,1112.3L1302.6,1112.4L1304.5,1112.4L1305.8,1112.2L1307.1,1112.1L1308.5,1111.9L1309.9,1111.7L1311.3,1111.6L1312.7,1111.5L1314.2,1111.4L1315.7,1111.2L1317.2,1110.9L1318.8,1110.6L1320.3,1110.4L1321.9,1110.1L1323.5,1109.9L1325.0,1109.6L1326.6,1109.4L1328.2,1109.1L1329.8,1108.8L1331.5,1108.6L1333.1,1108.4L1334.7,1108.1L1336.3,1107.7L1337.9,1107.3L1339.5,1106.8L1341.0,1106.5L1342.6,1106.3L1344.2,1106.0L1345.7,1105.6L1347.2,1105.1L1348.6,1104.6L1350.0,1104.1L1351.5,1103.9L1352.9,1103.6L1354.3,1103.3L1355.7,1102.8L1357.1,1102.3L1358.5,1101.7L1359.9,1101.2L1361.2,1100.7L1362.6,1100.2L1364.0,1099.6L1365.4,1099.2L1366.9,1098.8L1368.3,1098.4L1369.7,1098.0L1371.2,1097.6L1372.6,1097.2L1374.1,1096.7L1375.6,1096.2L1377.2,1095.5L1378.7,1094.9L1380.3,1094.4L1381.9,1094.1L1383.5,1093.7L1385.2,1093.4L1386.9,1093.1L1388.2,1092.9L1389.5,1092.7L1390.8,1092.4L1392.2,1092.0L1393.5,1091.7L1394.9,1091.4L1396.2,1091.1L1397.6,1090.9L1399.0,1090.6L1400.4,1090.3L1401.8,1090.0L1403.2,1089.8L1404.6,1089.5L1406.1,1089.3L1407.5,1089.0L1409.0,1088.8L1410.4,1088.6L1411.9,1088.5L1413.4,1088.4L1414.9,1088.3L1416.4,1088.1L1417.9,1088.0L1419.4,1087.8L1420.9,1087.6L1422.5,1087.4L1424.0,1087.2L1425.6,1087.0L1427.2,1086.7L1428.8,1086.4L1430.4,1086.1L1432.0,1085.8L1433.6,1085.5L1435.2,1085.3L1436.8,1085.2L1438.5,1085.0L1440.1,1084.9L1441.8,1084.8L1443.2,1084.7L1444.6,1084.7L1446.0,1084.5L1447.4,1084.4L1448.8,1084.2L1450.2,1084.0L1451.6,1083.9L1453.1,1083.7L1454.5,1083.5L1456.0,1083.2L1457.4,1083.0L1458.9,1082.8L1460.4,1082.6L1461.9,1082.5L1463.4,1082.4L1464.9,1082.3L1466.4,1082.1L1467.9,1082.0L1469.4,1081.8L1470.9,1081.7L1472.5,1081.6L1474.0,1081.5L1475.5,1081.3L1477.1,1081.1L1478.6,1080.9L1480.2,1080.8L1481.8,1080.8L1483.3,1080.8L1484.9,1080.8L1486.5,1080.6L1488.1,1080.5L1489.6,1080.4L1491.2,1080.2L1492.8,1079.9L1494.4,1079.7L1496.0,1079.6L1497.6,1079.6L1499.2,1079.5L1500.8,1079.5L1502.4,1079.6L1504.0,1079.6L1505.7,1079.6L1507.3,1079.4L1508.9,1079.2L1510.5,1079.2L1511.9,1079.3L1513.4,1079.4L1514.9,1079.5L1516.5,1079.4L1518.0,1079.4L1519.6,1079.3L1521.3,1079.4L1522.9,1079.4L1524.6,1079.5L1526.2,1079.6L1527.9,1079.6L1529.7,1079.7L1531.4,1079.6L1533.1,1079.6L1534.9,1079.6L1536.6,1079.6L1538.4,1079.7L1540.1,1079.8L1541.9,1079.9L1543.7,1080.0L1545.4,1080.1L1547.2,1080.3L1548.9,1080.4L1550.7,1080.6L1552.4,1080.7L1554.1,1080.8L1555.8,1080.8L1557.5,1080.8L1559.2,1080.8L1560.8,1080.9L1562.4,1081.2L1564.0,1081.4L1565.6,1081.5L1567.2,1081.5L1568.7,1081.5L1570.2,1081.5L1571.6,1081.6L1573.0,1081.7L1574.4,1081.7L1575.8,1081.8L1577.1,1081.9L1578.3,1082.0L1579.5,1082.1L1580.7,1082.3L1581.8,1082.4L1582.9,1082.5L1583.9,1082.7L1584.9,1082.8L1585.8,1082.8L1586.6,1082.8L1587.4,1082.6" fill="none" stroke="#000000" stroke-width="7.8" stroke-linejoin="round" stroke-linecap="butt"/>
<path d="M929.6,1006.5L930.4,1006.5L931.3,1006.6L932.3,1006.8L933.4,1007.0L934.6,1007.2L935.9,1007.3L937.3,1007.5L938.7,1007.6L940.2,1007.8L941.7,1008.0L943.3,1008.2L944.9,1008.4L946.6,1008.4L948.3,1008.5L950.0,1008.5L951.8,1008.8L953.5,1009.0L955.3,1009.2L957.1,1009.4L958.8,1009.6L960.6,1009.8L962.3,1010.0L964.0,1010.2L965.7,1010.5L967.4,1010.9L969.0,1011.2L970.6,1011.4L972.1,1011.5L973.5,1011.6L974.9,1011.8L976.6,1012.2L978.2,1012.5L979.9,1012.9L981.5,1013.1L983.1,1013.3L984.7,1013.5L986.3,1013.8L987.8,1014.1L989.4,1014.4L990.9,1014.7L992.4,1015.1L993.9,1015.4L995.3,1015.8L996.8,1016.2L998.2,1016.6L999.7,1017.0L1001.1,1017.4L1002.5,1017.7L1003.9,1018.1L1005.2,1018.4L1006.6,1018.8L1007.9,1019.1L1009.3,1019.5L1010.6,1020.0L1012.1,1020.7L1013.6,1021.4L1015.0,1022.1L1016.5,1022.8L1017.9,1023.5L1019.3,1024.3L1020.7,1025.2L1022.0,1026.1L1023.4,1027.1L1024.7,1028.0L1026.0,1028.9L1027.3,1029.7L1028.6,1030.5L1029.9,1031.4L1031.1,1032.2L1032.3,1033.1L1033.5,1033.9L1034.7,1034.7L1035.8,1035.5L1037.0,1036.3L1038.1,1037.0L1039.6,1038.0L1041.1,1039.0L1042.5,1040.0L1043.9,1041.0L1045.2,1042.0L1046.5,1043.0L1047.8,1044.0L1049.0,1044.9L1050.2,1045.9L1051.4,1046.7L1052.6,1047.6L1053.8,1048.4L1054.9,1049.2L1056.1,1049.9L1057.3,1050.5L1058.8,1051.3L1060.2,1052.1L1061.7,1053.0L1063.1,1053.8L1064.5,1054.6L1065.9,1055.2L1067.3,1055.7L1068.6,1056.2L1069.9,1056.7L1071.2,1057.2L1072.5,1057.6L1073.8,1058.0L1075.4,1058.4L1076.8,1058.7L1078.2,1058.9L1079.5,1059.0L1080.8,1059.0L1082.2,1059.0L1083.8,1058.8L1085.5,1058.5L1087.5,1058.1L1088.7,1057.9L1089.9,1057.6L1091.1,1057.3L1092.4,1057.0L1093.7,1056.7L1095.1,1056.3L1096.5,1055.8L1098.0,1055.4L1099.4,1054.9L1101.0,1054.4L1102.5,1053.8L1104.1,1053.2L1105.7,1052.8L1107.3,1052.3L1108.9,1051.9L1110.6,1051.3L1112.3,1050.7L1113.6,1050.2L1114.9,1049.7L1116.2,1049.2L1117.5,1048.6L1118.9,1048.1L1120.2,1047.4L1121.6,1046.7L1123.0,1046.0L1124.5,1045.3L1125.9,1044.6L1127.3,1044.0L1128.8,1043.3L1130.3,1042.6L1131.7,1042.0L1133.2,1041.4L1134.7,1040.7L1136.2,1040.0L1137.7,1039.3L1139.2,1038.6L1140.7,1038.1L1142.2,1037.7L1143.7,1037.3L1145.2,1036.9L1146.6,1036.4L1148.1,1036.0L1149.6,1035.6L1151.1,1035.2L1152.6,1034.8L1154.1,1034.4L1155.7,1034.1L1157.2,1033.8L1158.7,1033.5L1160.3,1033.2L1161.8,1033.0L1163.4,1032.8L1164.9,1032.6L1166.5,1032.3L1168.0,1032.0L1169.5,1031.8L1171.0,1031.6L1172.5,1031.5L1173.9,1031.3L1175.4,1031.2L1176.8,1031.1L1178.2,1031.0L1179.6,1030.9L1180.9,1030.7L1182.6,1030.6L1184.3,1030.4L1185.9,1030.3L1187.4,1030.1L1188.9,1030.0L1190.4,1030.0L1191.8,1030.0L1193.2,1030.1L1194.7,1030.2L1196.1,1030.2L1197.5,1030.3L1198.9,1030.3L1200.4,1030.5L1201.9,1030.6L1203.4,1030.8L1205.0,1031.1L1206.7,1031.3L1208.4,1031.6L1209.7,1031.9L1211.1,1032.2L1212.5,1032.5L1213.9,1032.8L1215.4,1033.2L1216.8,1033.5L1218.3,1033.8L1219.8,1034.1L1221.3,1034.7L1222.8,1035.2L1224.4,1035.7L1225.9,1036.2L1227.5,1036.8L1229.0,1037.3L1230.6,1037.7L1232.1,1038.1L1233.6,1038.5L1235.2,1039.0L1236.7,1039.6L1238.2,1040.2L1239.7,1040.8L1241.2,1041.4L1242.7,1042.0L1244.1,1042.5L1245.5,1043.0L1247.0,1043.5L1248.4,1044.0L1249.8,1044.6L1251.2,1045.3L1252.6,1046.0L1254.1,1046.8L1255.5,1047.6L1256.9,1048.5L1258.3,1049.4L1259.7,1050.3L1261.1,1051.0L1262.4,1051.8L1263.8,1052.6L1265.2,1053.3L1266.5,1054.0L1267.9,1054.7L1269.2,1055.4L1270.5,1056.0L1271.9,1056.5L1273.2,1057.0L1274.5,1057.5L1275.7,1058.1L1277.0,1058.6L1278.6,1059.2L1280.2,1059.8L1281.7,1060.4L1283.2,1060.9L1284.6,1061.5L1286.1,1061.9L1287.5,1062.2L1288.8,1062.6L1290.2,1062.8L1291.6,1063.1L1293.1,1063.3L1294.5,1063.5L1296.0,1063.5L1297.6,1063.5L1299.2,1063.5L1300.9,1063.6L1302.6,1063.8L1304.5,1063.9L1305.8,1063.8L1307.1,1063.7L1308.5,1063.5L1309.9,1063.4L1311.3,1063.3L1312.7,1063.2L1314.2,1063.1L1315.7,1062.9L1317.2,1062.6L1318.8,1062.3L1320.3,1062.1L1321.9,1062.0L1323.5,1061.9L1325.0,1061.8L1326.6,1061.4L1328.2,1061.1L1329.8,1060.7L1331.5,1060.5L1333.1,1060.2L1334.7,1059.9L1336.3,1059.5L1337.9,1059.0L1339.5,1058.6L1341.0,1058.3L1342.6,1058.1L1344.2,1057.8L1345.7,1057.5L1347.2,1057.1L1348.6,1056.8L1350.0,1056.4L1351.5,1056.0L1352.9,1055.6L1354.3,1055.2L1355.7,1054.7L1357.1,1054.2L1358.5,1053.8L1359.9,1053.3L1361.2,1052.9L1362.6,1052.5L1364.0,1052.1L1365.4,1051.6L1366.9,1051.0L1368.3,1050.5L1369.7,1050.0L1371.2,1049.5L1372.6,1049.0L1374.1,1048.5L1375.6,1048.0L1377.2,1047.5L1378.7,1047.0L1380.3,1046.6L1381.9,1046.2L1383.5,1045.9L1385.2,1045.5L1386.9,1045.0L1388.2,1044.5L1389.5,1044.1L1390.9,1043.8L1392.2,1043.5L1393.6,1043.2L1395.0,1042.9L1396.4,1042.6L1397.9,1042.2L1399.3,1041.9L1400.7,1041.7L1402.2,1041.4L1403.7,1041.2L1405.2,1041.0L1406.7,1040.7L1408.2,1040.3L1409.7,1040.0L1411.2,1039.7L1412.7,1039.4L1414.3,1039.1L1415.8,1038.7L1417.3,1038.3L1418.9,1037.9L1420.4,1037.6L1422.0,1037.4L1423.5,1037.2L1425.0,1036.9L1426.6,1036.6L1428.1,1036.3L1429.7,1036.0L1431.2,1035.7L1432.7,1035.4L1434.3,1035.1L1435.8,1034.8L1437.3,1034.5L1438.8,1034.2L1440.3,1034.0L1441.8,1034.0L1443.3,1033.9L1444.8,1033.8L1446.3,1033.4L1447.7,1033.0L1449.2,1032.6L1450.7,1032.3L1452.2,1032.1L1453.7,1031.9L1455.2,1031.7L1456.7,1031.5L1458.1,1031.2L1459.6,1031.0L1461.1,1030.8L1462.6,1030.7L1464.1,1030.5L1465.6,1030.2L1467.1,1029.9L1468.6,1029.6L1470.0,1029.4L1471.5,1029.2L1473.0,1029.1L1474.5,1029.0L1476.0,1028.7L1477.5,1028.5L1479.0,1028.3L1480.5,1028.2L1481.9,1028.1L1483.4,1028.0L1484.9,1027.8L1486.4,1027.5L1487.9,1027.2L1489.4,1026.8L1490.9,1026.7L1492.3,1026.6L1493.8,1026.5L1495.3,1026.4L1496.8,1026.2L1498.3,1026.1L1499.9,1026.0L1501.4,1025.9L1503.0,1025.9L1504.6,1025.8L1506.2,1025.6L1507.8,1025.4L1509.4,1025.1L1511.0,1025.0L1512.6,1024.8L1514.2,1024.7L1515.8,1024.6L1517.4,1024.5L1519.0,1024.4L1520.7,1024.3L1522.3,1024.1L1523.9,1023.9L1525.5,1023.7L1527.0,1023.6L1528.6,1023.4L1530.2,1023.3L1531.7,1023.3L1533.3,1023.3L1534.8,1023.3L1536.3,1023.3L1537.8,1023.3L1539.3,1023.3L1540.8,1023.2L1542.2,1023.1L1543.7,1023.0L1545.1,1022.9L1546.4,1022.7L1547.8,1022.6L1549.1,1022.5L1550.4,1022.4L1551.7,1022.5L1553.7,1022.5L1555.6,1022.5L1557.6,1022.5L1559.5,1022.5L1561.4,1022.4L1563.3,1022.3L1565.1,1022.2L1566.9,1022.3L1568.7,1022.4L1570.5,1022.5L1572.2,1022.5L1573.8,1022.5L1575.4,1022.5L1576.9,1022.5L1578.4,1022.6L1579.8,1022.6L1581.1,1022.7L1582.4,1022.7L1583.5,1022.8L1584.6,1022.8L1585.7,1022.8L1586.6,1022.8L1587.4,1023.0" fill="none" stroke="#2553A8" stroke-width="7.8" stroke-linejoin="round" stroke-linecap="butt"/>
<path d="M929.6,984.0L930.4,983.9L931.3,984.0L932.4,984.1L933.5,984.3L934.7,984.5L936.0,984.5L937.4,984.6L938.9,984.7L940.4,984.8L942.0,984.9L943.6,985.1L945.3,985.2L947.0,985.2L948.8,985.1L950.5,985.2L952.3,985.3L954.1,985.4L955.9,985.6L957.7,985.8L959.4,986.0L961.2,986.2L962.9,986.3L964.6,986.4L966.3,986.5L967.9,986.5L969.4,986.6L970.9,986.8L972.3,987.0L973.6,987.2L974.9,987.4L976.9,987.6L978.7,987.8L980.5,988.0L982.2,988.3L983.8,988.6L985.4,988.9L986.9,989.0L988.3,989.2L989.8,989.3L991.2,989.6L992.5,990.0L993.9,990.3L995.3,990.7L996.6,991.2L998.0,991.7L999.4,992.2L1000.9,992.5L1002.4,992.9L1003.9,993.2L1005.3,993.6L1006.8,994.1L1008.3,994.5L1009.8,995.0L1011.4,995.7L1012.9,996.3L1014.4,996.9L1015.9,997.5L1017.4,998.0L1018.9,998.6L1020.4,999.1L1021.8,999.7L1023.3,1000.2L1024.7,1000.8L1026.0,1001.6L1027.4,1002.3L1028.6,1003.1L1029.9,1003.8L1031.3,1004.7L1032.7,1005.7L1034.1,1006.7L1035.3,1007.7L1036.6,1008.6L1037.8,1009.6L1039.0,1010.6L1040.2,1011.7L1041.3,1012.9L1042.5,1014.0L1043.6,1015.2L1044.7,1016.3L1045.8,1017.3L1046.9,1018.3L1048.0,1019.2L1049.1,1020.1L1050.4,1021.2L1051.6,1022.3L1052.9,1023.5L1054.1,1024.6L1055.3,1025.7L1056.5,1026.7L1057.7,1027.7L1058.9,1028.7L1060.0,1029.7L1061.2,1030.6L1062.3,1031.5L1063.4,1032.4L1064.5,1033.1L1065.6,1033.9L1067.2,1035.0L1068.8,1035.9L1070.3,1036.6L1071.7,1037.0L1073.2,1037.3L1074.6,1037.5L1076.1,1037.9L1077.7,1038.2L1079.3,1038.4L1080.7,1038.4L1082.1,1038.2L1083.5,1038.1L1084.9,1037.9L1086.3,1037.7L1087.8,1037.5L1089.3,1037.2L1090.8,1036.9L1092.4,1036.6L1094.1,1036.1L1095.8,1035.6L1097.1,1035.1L1098.4,1034.6L1099.7,1034.1L1101.0,1033.4L1102.4,1032.7L1103.8,1032.0L1105.2,1031.3L1106.6,1030.7L1108.1,1030.1L1109.6,1029.5L1111.1,1028.8L1112.7,1028.1L1114.3,1027.4L1116.0,1026.5L1117.7,1025.7L1119.0,1025.1L1120.2,1024.5L1121.6,1023.9L1122.9,1023.3L1124.3,1022.7L1125.7,1022.1L1127.1,1021.6L1128.5,1021.1L1130.0,1020.5L1131.4,1019.8L1132.9,1019.1L1134.4,1018.4L1135.9,1017.7L1137.4,1017.0L1138.9,1016.4L1140.4,1015.8L1141.9,1015.3L1143.5,1014.8L1145.0,1014.3L1146.5,1013.8L1148.0,1013.3L1149.4,1012.8L1150.9,1012.5L1152.4,1012.3L1153.9,1012.0L1155.4,1011.7L1156.9,1011.3L1158.5,1010.9L1160.0,1010.6L1161.5,1010.2L1163.1,1009.9L1164.6,1009.6L1166.2,1009.4L1167.7,1009.3L1169.2,1009.3L1170.7,1009.0L1172.2,1008.7L1173.7,1008.4L1175.2,1008.2L1176.7,1008.0L1178.1,1007.9L1179.5,1007.9L1180.9,1007.7L1182.6,1007.6L1184.2,1007.4L1185.8,1007.5L1187.4,1007.6L1188.9,1007.7L1190.5,1007.7L1192.0,1007.6L1193.5,1007.5L1195.0,1007.5L1196.5,1007.7L1198.0,1007.9L1199.4,1008.1L1200.9,1008.2L1202.4,1008.3L1203.9,1008.4L1205.4,1008.6L1206.9,1008.9L1208.4,1009.2L1209.8,1009.6L1211.3,1009.9L1212.7,1010.2L1214.2,1010.6L1215.6,1010.9L1217.1,1011.2L1218.5,1011.6L1219.9,1011.9L1221.4,1012.3L1222.8,1012.8L1224.3,1013.2L1225.7,1013.7L1227.1,1014.2L1228.6,1014.7L1230.0,1015.2L1231.5,1015.7L1232.9,1016.3L1234.4,1016.9L1235.8,1017.5L1237.2,1018.1L1238.5,1018.8L1239.9,1019.5L1241.3,1020.1L1242.7,1020.8L1244.0,1021.5L1245.4,1022.3L1246.8,1023.2L1248.2,1024.0L1249.5,1024.9L1250.9,1025.7L1252.3,1026.5L1253.7,1027.3L1255.0,1028.1L1256.4,1029.0L1257.8,1029.9L1259.2,1030.7L1260.5,1031.5L1261.9,1032.2L1263.3,1032.9L1264.8,1033.5L1266.2,1034.0L1267.7,1034.5L1269.2,1034.9L1270.7,1035.5L1272.2,1036.2L1273.7,1036.8L1275.2,1037.4L1276.7,1038.0L1278.1,1038.7L1279.6,1039.3L1281.1,1039.8L1282.5,1040.2L1284.0,1040.6L1285.4,1041.0L1286.8,1041.3L1288.1,1041.5L1289.5,1041.7L1290.8,1042.1L1292.5,1042.6L1294.1,1043.0L1295.7,1043.2L1297.1,1043.4L1298.6,1043.5L1300.0,1043.6L1301.4,1043.5L1302.8,1043.4L1304.3,1043.2L1305.8,1043.0L1307.4,1042.9L1309.0,1042.7L1310.8,1042.5L1312.7,1042.3L1314.0,1042.2L1315.3,1042.0L1316.6,1041.9L1317.9,1041.8L1319.3,1041.6L1320.7,1041.3L1322.1,1041.0L1323.5,1040.6L1325.0,1040.2L1326.5,1040.0L1328.0,1039.7L1329.5,1039.4L1331.1,1039.0L1332.6,1038.6L1334.2,1038.3L1335.8,1037.9L1337.4,1037.6L1339.1,1037.3L1340.7,1036.9L1342.4,1036.4L1344.0,1035.9L1345.7,1035.4L1347.0,1034.9L1348.3,1034.5L1349.6,1034.0L1351.0,1033.6L1352.3,1033.1L1353.7,1032.6L1355.1,1032.1L1356.5,1031.5L1357.9,1030.9L1359.3,1030.3L1360.7,1029.8L1362.2,1029.3L1363.6,1028.8L1365.1,1028.3L1366.5,1027.8L1368.0,1027.3L1369.4,1026.9L1370.9,1026.3L1372.4,1025.6L1373.8,1025.0L1375.3,1024.4L1376.8,1023.8L1378.2,1023.2L1379.7,1022.6L1381.1,1022.2L1382.6,1021.8L1384.0,1021.4L1385.5,1020.9L1386.9,1020.4L1388.4,1019.9L1389.8,1019.3L1391.3,1018.9L1392.8,1018.4L1394.3,1018.0L1395.7,1017.5L1397.2,1017.1L1398.7,1016.7L1400.1,1016.3L1401.6,1015.9L1403.1,1015.5L1404.6,1015.2L1406.0,1014.8L1407.5,1014.5L1409.0,1014.1L1410.4,1013.8L1411.9,1013.4L1413.4,1013.1L1414.9,1012.8L1416.3,1012.6L1417.8,1012.3L1419.3,1012.1L1420.7,1011.8L1422.2,1011.3L1423.7,1010.9L1425.2,1010.6L1426.6,1010.3L1428.1,1010.0L1429.6,1009.6L1431.1,1009.4L1432.6,1009.2L1434.1,1009.0L1435.5,1008.8L1437.0,1008.5L1438.4,1008.3L1439.9,1008.1L1441.3,1007.8L1442.8,1007.4L1444.2,1007.1L1445.7,1006.8L1447.1,1006.7L1448.6,1006.6L1450.0,1006.4L1451.5,1006.1L1453.0,1005.8L1454.6,1005.5L1456.1,1005.3L1457.6,1005.2L1459.2,1005.0L1460.8,1004.8L1462.5,1004.6L1464.1,1004.4L1465.8,1004.3L1467.5,1004.2L1469.3,1004.1L1470.6,1003.9L1472.0,1003.7L1473.4,1003.5L1474.8,1003.4L1476.2,1003.2L1477.6,1003.0L1479.0,1002.8L1480.4,1002.7L1481.9,1002.6L1483.3,1002.5L1484.8,1002.4L1486.3,1002.2L1487.8,1002.0L1489.3,1001.8L1490.8,1001.7L1492.3,1001.5L1493.8,1001.4L1495.4,1001.3L1496.9,1001.3L1498.5,1001.3L1500.0,1001.3L1501.6,1001.1L1503.2,1000.9L1504.8,1000.7L1506.4,1000.7L1508.0,1000.6L1509.6,1000.5L1511.2,1000.4L1512.8,1000.2L1514.4,1000.0L1516.0,1000.0L1517.7,1000.1L1519.3,1000.1L1520.9,1000.0L1522.6,999.9L1524.2,999.8L1525.6,999.7L1527.1,999.6L1528.6,999.5L1530.2,999.4L1531.7,999.5L1533.3,999.6L1535.0,999.7L1536.6,999.6L1538.3,999.5L1540.0,999.4L1541.8,999.4L1543.5,999.3L1545.2,999.3L1547.0,999.3L1548.8,999.3L1550.5,999.2L1552.3,999.2L1554.0,999.2L1555.8,999.2L1557.5,999.2L1559.2,999.3L1560.9,999.4L1562.6,999.5L1564.3,999.6L1565.9,999.5L1567.6,999.4L1569.2,999.3L1570.7,999.3L1572.2,999.4L1573.7,999.4L1575.1,999.5L1576.5,999.5L1577.9,999.6L1579.2,999.6L1580.4,999.6L1581.6,999.7L1582.7,999.7L1583.8,999.7L1584.8,999.7L1585.7,999.7L1586.6,999.7L1587.4,999.7" fill="none" stroke="#FF1A22" stroke-width="7.8" stroke-linejoin="round" stroke-linecap="butt"/>
<path d="M929.6,1021.7L930.4,1021.9L931.3,1021.9L932.3,1021.8L933.4,1021.7L934.6,1021.6L935.9,1021.8L937.3,1022.0L938.7,1022.1L940.2,1022.2L941.7,1022.2L943.3,1022.1L944.9,1022.1L946.6,1022.4L948.3,1022.6L950.0,1022.8L951.8,1022.7L953.5,1022.5L955.3,1022.6L957.1,1022.9L958.8,1023.1L960.6,1023.3L962.3,1023.4L964.0,1023.5L965.7,1023.6L967.4,1023.8L969.0,1023.9L970.6,1024.1L972.1,1024.3L973.5,1024.5L974.9,1024.7L976.6,1024.8L978.2,1024.8L979.9,1025.0L981.5,1025.2L983.1,1025.5L984.7,1025.8L986.3,1026.2L987.8,1026.5L989.4,1026.9L990.9,1027.1L992.4,1027.4L993.9,1027.6L995.3,1027.9L996.8,1028.3L998.2,1028.6L999.7,1029.0L1001.1,1029.4L1002.5,1029.8L1003.9,1030.2L1005.2,1030.7L1006.6,1031.2L1007.9,1031.7L1009.3,1032.3L1010.6,1032.8L1012.2,1033.4L1013.7,1034.1L1015.2,1034.7L1016.8,1035.4L1018.2,1036.1L1019.7,1036.8L1021.2,1037.4L1022.6,1038.1L1024.0,1038.8L1025.4,1039.6L1026.7,1040.5L1028.1,1041.4L1029.4,1042.4L1030.7,1043.1L1032.0,1043.9L1033.3,1044.6L1034.5,1045.4L1035.7,1046.1L1036.9,1046.9L1038.1,1047.6L1039.5,1048.5L1040.9,1049.5L1042.2,1050.6L1043.5,1051.6L1044.7,1052.7L1045.9,1053.7L1047.1,1054.7L1048.2,1055.7L1049.3,1056.7L1050.5,1057.6L1051.6,1058.5L1052.7,1059.4L1053.8,1060.3L1055.0,1061.1L1056.1,1062.0L1057.3,1062.8L1058.8,1063.8L1060.3,1064.7L1061.8,1065.4L1063.4,1066.2L1064.9,1066.9L1066.5,1067.6L1068.0,1068.3L1069.5,1068.9L1071.0,1069.6L1072.4,1070.1L1073.8,1070.6L1075.2,1071.0L1076.5,1071.3L1078.2,1071.6L1079.7,1071.8L1081.0,1072.0L1082.3,1072.0L1083.5,1071.9L1084.9,1071.7L1086.4,1071.5L1088.2,1071.2L1090.3,1070.7L1091.4,1070.4L1092.6,1070.1L1093.8,1069.7L1095.0,1069.3L1096.3,1068.7L1097.7,1068.2L1099.0,1067.6L1100.5,1067.0L1101.9,1066.5L1103.4,1066.0L1104.9,1065.5L1106.4,1064.7L1108.0,1063.9L1109.5,1063.0L1111.1,1062.4L1112.8,1061.8L1114.4,1061.2L1116.0,1060.5L1117.7,1059.9L1119.0,1059.4L1120.3,1059.0L1121.6,1058.5L1122.9,1058.1L1124.3,1057.7L1125.7,1057.1L1127.1,1056.4L1128.5,1055.8L1129.9,1055.2L1131.4,1054.5L1132.8,1053.9L1134.3,1053.3L1135.8,1052.7L1137.2,1052.0L1138.7,1051.3L1140.2,1050.7L1141.7,1050.2L1143.2,1049.6L1144.6,1049.1L1146.1,1048.7L1147.6,1048.3L1149.1,1047.9L1150.5,1047.3L1152.0,1046.8L1153.4,1046.3L1154.9,1045.8L1156.4,1045.4L1157.9,1045.1L1159.5,1044.8L1161.0,1044.5L1162.5,1044.2L1164.1,1043.9L1165.6,1043.7L1167.2,1043.5L1168.7,1043.4L1170.3,1043.3L1171.8,1043.2L1173.4,1043.0L1174.9,1042.9L1176.4,1042.7L1177.9,1042.5L1179.4,1042.4L1180.8,1042.2L1182.3,1042.1L1183.7,1042.0L1185.1,1041.9L1186.5,1041.8L1187.9,1041.7L1189.2,1041.7L1190.9,1041.6L1192.6,1041.5L1194.2,1041.4L1195.7,1041.4L1197.3,1041.5L1198.7,1041.7L1200.2,1041.8L1201.6,1041.7L1203.1,1041.7L1204.5,1041.7L1205.9,1041.8L1207.4,1041.9L1208.8,1042.1L1210.3,1042.3L1211.8,1042.5L1213.4,1042.8L1215.0,1043.2L1216.6,1043.6L1217.9,1044.0L1219.3,1044.4L1220.7,1044.7L1222.1,1045.0L1223.5,1045.3L1225.0,1045.7L1226.4,1046.2L1227.9,1046.8L1229.4,1047.3L1230.9,1047.8L1232.4,1048.2L1233.8,1048.6L1235.3,1049.1L1236.8,1049.6L1238.3,1050.2L1239.8,1050.7L1241.2,1051.2L1242.7,1051.7L1244.1,1052.2L1245.5,1052.8L1246.9,1053.5L1248.3,1054.2L1249.6,1054.8L1251.1,1055.5L1252.6,1056.1L1254.0,1056.8L1255.4,1057.4L1256.8,1058.1L1258.2,1058.8L1259.6,1059.5L1261.0,1060.2L1262.3,1060.9L1263.6,1061.6L1265.0,1062.3L1266.3,1063.1L1267.6,1063.9L1268.9,1064.7L1270.3,1065.4L1271.6,1066.0L1272.9,1066.6L1274.3,1067.2L1275.6,1067.8L1277.0,1068.4L1278.5,1069.0L1280.0,1069.6L1281.4,1070.1L1282.8,1070.6L1284.2,1071.1L1285.7,1071.5L1287.1,1071.9L1288.5,1072.2L1289.9,1072.5L1291.3,1072.8L1292.8,1073.0L1294.3,1073.2L1295.9,1073.3L1297.5,1073.4L1299.1,1073.5L1300.8,1073.7L1302.6,1073.9L1304.5,1074.0L1305.7,1074.0L1307.0,1073.9L1308.3,1073.8L1309.7,1073.7L1311.0,1073.4L1312.4,1073.0L1313.8,1072.7L1315.3,1072.4L1316.7,1072.3L1318.2,1072.1L1319.7,1071.8L1321.2,1071.5L1322.7,1071.2L1324.2,1070.9L1325.8,1070.6L1327.3,1070.4L1328.9,1070.1L1330.4,1069.7L1332.0,1069.1L1333.5,1068.6L1335.1,1068.1L1336.6,1067.7L1338.2,1067.3L1339.7,1066.9L1341.2,1066.7L1342.7,1066.4L1344.2,1066.2L1345.7,1065.8L1347.2,1065.3L1348.6,1064.9L1350.0,1064.4L1351.5,1063.9L1352.9,1063.5L1354.3,1063.0L1355.7,1062.5L1357.1,1062.1L1358.5,1061.7L1359.9,1061.2L1361.2,1060.7L1362.6,1060.1L1364.0,1059.6L1365.4,1059.1L1366.9,1058.6L1368.3,1058.1L1369.7,1057.6L1371.2,1057.0L1372.6,1056.4L1374.1,1055.8L1375.6,1055.2L1377.2,1054.6L1378.7,1054.1L1380.3,1053.6L1381.9,1053.1L1383.5,1052.6L1385.2,1052.1L1386.9,1051.7L1388.2,1051.4L1389.5,1051.1L1390.9,1050.8L1392.2,1050.5L1393.6,1050.2L1395.0,1049.8L1396.4,1049.4L1397.9,1049.0L1399.3,1048.6L1400.7,1048.3L1402.2,1047.9L1403.7,1047.5L1405.2,1047.2L1406.7,1046.9L1408.2,1046.6L1409.7,1046.3L1411.2,1046.0L1412.7,1045.6L1414.3,1045.3L1415.8,1044.9L1417.3,1044.6L1418.9,1044.2L1420.4,1043.9L1422.0,1043.5L1423.5,1043.1L1425.0,1042.8L1426.6,1042.5L1428.1,1042.3L1429.7,1042.1L1431.2,1041.8L1432.7,1041.4L1434.3,1041.1L1435.8,1040.8L1437.3,1040.6L1438.8,1040.3L1440.3,1040.0L1441.8,1039.7L1443.3,1039.5L1444.8,1039.2L1446.3,1038.7L1447.7,1038.3L1449.2,1037.9L1450.7,1037.7L1452.2,1037.5L1453.7,1037.4L1455.2,1037.2L1456.7,1036.9L1458.1,1036.6L1459.6,1036.3L1461.1,1036.1L1462.6,1035.9L1464.1,1035.6L1465.6,1035.4L1467.1,1035.2L1468.6,1035.0L1470.0,1034.8L1471.5,1034.5L1473.0,1034.2L1474.5,1034.0L1476.0,1033.8L1477.5,1033.6L1479.0,1033.4L1480.5,1033.3L1481.9,1033.2L1483.4,1033.1L1484.9,1033.0L1486.4,1032.7L1487.9,1032.4L1489.4,1032.1L1490.9,1032.0L1492.3,1031.9L1493.8,1031.8L1495.3,1031.7L1496.8,1031.5L1498.3,1031.3L1499.9,1031.0L1501.4,1030.8L1503.0,1030.6L1504.6,1030.3L1506.2,1030.2L1507.8,1030.0L1509.4,1029.8L1511.0,1029.7L1512.6,1029.6L1514.2,1029.5L1515.8,1029.4L1517.4,1029.3L1519.0,1029.1L1520.7,1028.9L1522.3,1028.7L1523.9,1028.5L1525.5,1028.3L1527.0,1028.1L1528.6,1028.0L1530.2,1027.8L1531.7,1027.7L1533.3,1027.6L1534.8,1027.5L1536.3,1027.5L1537.8,1027.6L1539.3,1027.6L1540.8,1027.5L1542.2,1027.4L1543.7,1027.2L1545.1,1027.1L1546.4,1026.9L1547.8,1026.7L1549.1,1026.5L1550.4,1026.5L1551.7,1026.5L1553.7,1026.6L1555.6,1026.6L1557.6,1026.5L1559.5,1026.3L1561.4,1026.2L1563.3,1026.1L1565.1,1026.1L1566.9,1026.2L1568.7,1026.3L1570.5,1026.3L1572.2,1026.2L1573.8,1026.0L1575.4,1025.9L1576.9,1026.0L1578.4,1026.0L1579.8,1026.0L1581.1,1026.0L1582.4,1026.1L1583.5,1026.2L1584.6,1026.2L1585.7,1026.3L1586.6,1026.3L1587.4,1026.3" fill="none" stroke="#06803C" stroke-width="7.8" stroke-linejoin="round" stroke-linecap="butt"/>
<path d="M929.6,333.6L930.4,333.6L931.4,333.8L932.6,334.1L933.9,334.3L935.3,334.6L936.8,334.8L938.5,335.1L940.2,335.4L941.9,335.7L943.8,336.1L945.6,336.4L947.5,336.8L948.8,337.1L950.2,337.4L951.6,337.8L953.2,338.2L954.7,338.6L956.3,338.8L958.0,339.0L959.6,339.2L961.3,339.7L962.9,340.2L964.6,340.7L966.2,340.9L967.8,341.1L969.4,341.2L970.9,341.7L972.3,342.1L973.6,342.6L974.9,343.0L976.8,343.6L978.5,344.2L980.1,344.7L981.6,345.3L983.0,345.8L984.3,346.3L985.7,347.0L987.0,347.8L988.4,348.7L989.8,349.5L991.4,350.2L992.7,350.7L994.0,351.3L995.4,352.0L996.8,352.9L998.3,353.8L999.7,354.7L1001.2,355.5L1002.6,356.4L1004.0,357.2L1005.4,358.0L1006.8,358.6L1008.1,359.3L1009.4,360.0L1010.6,361.0L1011.9,362.2L1013.2,363.3L1014.4,364.5L1015.6,365.5L1016.7,366.6L1017.8,367.6L1018.9,368.7L1020.0,369.8L1021.1,371.0L1022.2,372.2L1023.3,373.6L1024.4,375.0L1025.2,376.0L1026.0,377.0L1026.9,378.0L1027.7,379.1L1028.5,380.2L1029.4,381.3L1030.2,382.6L1031.0,383.9L1031.8,385.3L1032.7,386.7L1033.5,388.2L1034.3,389.6L1035.1,391.0L1035.8,392.5L1036.6,393.9L1037.4,395.4L1038.1,396.9L1038.7,398.2L1039.4,399.6L1040.0,400.9L1040.6,402.3L1041.3,403.6L1041.9,405.0L1042.5,406.4L1043.1,407.8L1043.7,409.3L1044.2,410.7L1044.8,412.2L1045.4,413.7L1045.9,415.1L1046.5,416.6L1047.0,418.1L1047.5,419.6L1048.1,421.0L1048.6,422.5L1049.1,423.9L1049.6,425.4L1050.1,426.8L1050.6,428.3L1051.0,429.8L1051.5,431.3L1051.9,432.7L1052.3,434.2L1052.7,435.7L1053.2,437.2L1053.6,438.6L1054.0,440.1L1054.4,441.6L1054.8,443.0L1055.2,444.5L1055.6,445.9L1056.0,447.3L1056.4,448.7L1056.9,450.1L1057.3,451.5L1057.8,453.0L1058.3,454.6L1058.8,456.1L1059.2,457.6L1059.7,459.2L1060.2,460.8L1060.7,462.4L1061.2,463.9L1061.7,465.5L1062.2,467.0L1062.7,468.5L1063.2,470.0L1063.7,471.4L1064.1,472.8L1064.6,474.2L1065.1,475.4L1065.6,476.6L1066.3,478.2L1067.0,479.9L1067.7,481.4L1068.3,483.0L1069.0,484.5L1069.7,485.9L1070.4,487.3L1071.1,488.6L1071.8,489.8L1072.4,490.9L1073.1,491.9L1073.8,492.8L1075.4,494.5L1076.9,495.5L1078.5,496.1L1080.2,496.2L1082.0,495.9L1083.1,495.6L1084.2,495.2L1085.4,494.5L1086.5,493.7L1087.8,492.6L1089.0,491.4L1090.3,490.1L1091.6,488.7L1093.0,487.0L1093.7,486.1L1094.5,485.0L1095.3,484.1L1096.1,483.1L1096.9,482.1L1097.7,481.0L1098.5,479.9L1099.3,478.7L1100.1,477.4L1101.0,476.0L1101.8,474.5L1102.7,473.1L1103.5,471.6L1104.3,470.1L1105.2,468.6L1106.0,467.2L1106.8,465.7L1107.5,464.5L1108.2,463.2L1108.8,461.9L1109.5,460.5L1110.2,459.1L1110.8,457.7L1111.5,456.3L1112.2,454.9L1112.8,453.4L1113.5,452.0L1114.1,450.5L1114.8,449.0L1115.5,447.6L1116.2,446.1L1116.9,444.7L1117.6,443.3L1118.3,441.8L1119.0,440.4L1119.8,439.1L1120.5,437.7L1121.3,436.3L1122.1,435.0L1122.9,433.6L1123.8,432.3L1124.6,430.9L1125.5,429.7L1126.4,428.4L1127.3,427.1L1128.1,425.8L1129.0,424.6L1129.9,423.3L1130.8,422.1L1131.7,420.8L1132.6,419.6L1133.5,418.3L1134.4,417.0L1135.3,415.7L1136.1,414.3L1137.0,413.0L1137.9,411.6L1138.7,410.2L1139.6,408.8L1140.5,407.5L1141.3,406.3L1142.2,405.1L1143.0,403.8L1143.9,402.6L1144.8,401.3L1145.6,399.9L1146.5,398.6L1147.4,397.3L1148.2,396.0L1149.1,394.7L1149.9,393.4L1150.8,392.1L1151.7,390.7L1152.5,389.4L1153.4,388.2L1154.4,386.7L1155.4,385.5L1156.4,384.4L1157.5,383.4L1158.5,382.3L1159.5,381.3L1160.5,380.1L1161.5,378.9L1162.5,377.7L1163.5,376.5L1164.5,375.4L1165.6,374.5L1166.6,373.6L1167.7,372.7L1168.8,371.9L1169.9,371.1L1171.2,370.0L1172.5,369.0L1173.9,368.0L1175.3,367.2L1176.7,366.5L1178.1,365.9L1179.6,365.3L1181.0,364.5L1182.4,363.8L1183.8,363.2L1185.2,362.6L1186.6,362.1L1187.9,361.6L1189.2,361.2L1190.8,360.6L1192.3,360.0L1193.7,359.4L1195.1,358.8L1196.5,358.2L1197.9,357.6L1199.3,357.2L1200.8,357.0L1202.3,357.0L1203.9,357.1L1205.6,357.5L1206.8,357.8L1208.1,358.1L1209.4,358.5L1210.7,359.0L1212.1,359.6L1213.4,360.2L1214.8,360.9L1216.3,361.5L1217.7,362.2L1219.1,363.0L1220.5,363.9L1222.0,364.9L1223.4,365.9L1224.8,367.0L1226.2,368.2L1227.6,369.4L1228.6,370.3L1229.5,371.3L1230.5,372.2L1231.5,373.2L1232.5,374.2L1233.5,375.2L1234.5,376.3L1235.5,377.5L1236.5,378.6L1237.5,379.9L1238.4,381.1L1239.4,382.3L1240.4,383.7L1241.4,385.0L1242.4,386.3L1243.3,387.7L1244.3,389.0L1245.2,390.4L1246.1,391.8L1247.0,393.2L1247.9,394.6L1248.8,395.9L1249.6,397.3L1250.5,398.5L1251.3,399.8L1252.1,401.1L1252.9,402.5L1253.7,403.8L1254.5,405.1L1255.3,406.5L1256.0,407.8L1256.7,409.2L1257.5,410.6L1258.2,411.9L1258.9,413.3L1259.6,414.7L1260.3,416.1L1261.0,417.5L1261.8,418.9L1262.5,420.3L1263.2,421.7L1263.9,423.2L1264.6,424.6L1265.4,425.9L1266.1,427.1L1266.9,428.4L1267.6,429.8L1268.4,431.1L1269.1,432.5L1269.9,433.9L1270.7,435.3L1271.4,436.8L1272.2,438.2L1272.9,439.7L1273.7,441.1L1274.5,442.6L1275.2,444.0L1276.0,445.4L1276.7,446.8L1277.5,448.2L1278.2,449.5L1279.0,450.9L1279.7,452.1L1280.4,453.4L1281.1,454.6L1281.8,455.7L1282.5,456.8L1283.6,458.4L1284.6,460.0L1285.6,461.5L1286.6,462.9L1287.6,464.2L1288.6,465.5L1289.6,466.7L1290.5,468.0L1291.5,469.2L1292.4,470.3L1293.4,471.3L1294.4,472.3L1295.3,473.2L1296.3,473.9L1297.8,474.9L1299.4,475.7L1300.9,476.0L1302.4,476.1L1303.9,476.0L1305.4,476.0L1307.0,476.1L1308.5,476.2L1310.0,476.1L1311.3,476.0L1312.6,475.9L1313.8,475.7L1314.9,475.4L1316.2,475.0L1317.4,474.4L1318.8,473.6L1320.2,472.5L1321.9,471.1L1323.7,469.3L1324.5,468.4L1325.4,467.6L1326.3,466.8L1327.2,465.9L1328.2,464.9L1329.3,463.8L1330.4,462.6L1331.5,461.2L1332.6,459.9L1333.7,458.5L1334.9,457.0L1336.0,455.7L1337.1,454.3L1338.3,452.9L1339.4,451.6L1340.5,450.2L1341.6,448.9L1342.6,447.6L1343.6,446.3L1344.6,445.2L1345.5,444.2L1346.3,443.2L1347.1,442.4L1347.8,441.6L1348.5,440.9L1350.8,438.9L1351.8,438.4L1352.4,438.4L1353.1,437.7L1354.7,434.9L1355.1,434.0L1355.6,432.9L1356.1,431.7L1356.6,430.5L1357.2,429.2L1357.7,427.8L1358.3,426.3L1358.9,424.8L1359.5,423.2L1360.1,421.6L1360.8,420.1L1361.4,418.5L1362.1,416.9L1362.8,415.3L1363.5,413.7L1364.1,412.1L1364.8,410.5L1365.5,408.9L1366.2,407.4L1367.0,405.9L1367.7,404.5L1368.4,403.1L1369.1,401.8L1369.8,400.5L1370.5,399.2L1371.2,398.0L1372.2,396.4L1373.1,395.0L1374.1,393.6L1375.1,392.3L1376.1,391.2L1377.2,390.1L1378.2,389.1L1379.2,388.1L1380.3,387.1L1381.3,386.1L1382.4,385.2L1383.4,384.2L1384.5,383.3L1385.6,382.2L1386.7,381.2L1387.7,380.1L1388.8,379.0L1389.9,377.8L1391.0,376.6L1392.0,375.5L1393.1,374.3L1394.1,373.1L1395.2,372.0L1396.3,370.9L1397.4,369.8L1398.4,368.6L1399.5,367.5L1400.6,366.5L1401.7,365.4L1402.8,364.3L1403.9,363.3L1405.0,362.3L1406.0,361.3L1407.1,360.3L1408.2,359.4L1409.3,358.5L1410.3,357.5L1411.4,356.6L1412.4,355.7L1413.6,354.7L1414.8,353.7L1416.0,352.6L1417.2,351.5L1418.4,350.5L1419.6,349.4L1420.8,348.4L1422.0,347.5L1423.2,346.5L1424.4,345.5L1425.5,344.6L1426.7,343.7L1427.8,342.7L1428.9,341.8L1430.0,340.8L1431.1,339.8L1432.2,338.7L1433.2,337.7L1434.2,336.6L1435.1,335.4L1436.0,334.1L1436.9,332.8L1437.8,331.5L1438.6,330.2L1439.5,328.8L1440.4,327.5L1441.2,326.2L1442.1,324.9L1443.0,323.6L1443.9,322.4L1444.8,321.1L1445.7,320.0L1446.7,318.8L1447.7,317.7L1448.7,316.7L1449.8,315.7L1450.9,314.7L1452.0,313.7L1453.2,312.8L1454.4,311.9L1455.6,310.8L1456.8,309.7L1458.1,308.6L1459.3,307.5L1460.5,306.7L1461.8,305.9L1463.0,305.1L1464.3,304.3L1465.5,303.5L1466.7,302.5L1467.8,301.6L1469.0,300.6L1470.1,299.6L1471.3,298.4L1472.5,297.2L1473.7,296.0L1474.9,294.7L1476.1,293.5L1477.3,292.3L1478.4,291.1L1479.6,290.0L1480.7,288.8L1481.8,287.7L1482.9,286.6L1484.0,285.6L1485.1,284.6L1486.1,283.8L1487.2,283.0L1488.2,282.2L1489.7,281.2L1491.0,280.2L1492.4,279.4L1493.7,278.5L1494.9,277.8L1496.2,277.0L1497.5,276.3L1498.8,275.6L1500.1,274.8L1501.6,273.9L1503.1,272.9L1504.3,272.1L1505.6,271.4L1506.9,270.8L1508.2,270.2L1509.5,269.6L1510.9,268.8L1512.2,268.0L1513.6,267.2L1515.1,266.6L1516.5,266.1L1518.0,265.6L1519.6,265.2L1521.2,264.8L1522.8,264.5L1524.2,264.3L1525.7,264.1L1527.3,264.0L1528.9,263.9L1530.6,263.8L1532.4,263.8L1534.1,263.9L1535.8,264.2L1537.6,264.6L1539.3,265.0L1540.9,264.9L1542.6,264.8L1544.1,264.6L1545.5,264.7L1546.9,264.7L1548.1,264.7L1549.2,264.7L1551.6,264.2L1553.2,263.5L1554.3,262.6L1555.2,261.8L1556.1,261.2L1557.5,261.1L1558.8,261.3L1560.2,261.9L1561.7,262.7L1563.3,263.5L1564.8,264.4L1566.3,265.2L1567.7,265.9L1569.0,266.4L1570.8,267.0L1572.4,267.4L1573.9,267.6L1575.5,267.5L1577.2,267.0L1578.6,266.3L1580.3,265.5L1582.0,264.7L1583.6,263.9L1585.2,263.0L1586.5,262.1L1587.4,261.4" fill="none" stroke="#C0C0C0" stroke-width="7.8" stroke-linejoin="round" stroke-linecap="butt"/>
<path d="M1654.3,1016.1L1655.2,1016.1L1656.1,1016.1L1657.2,1016.1L1658.5,1016.1L1659.8,1016.1L1661.2,1016.1L1662.7,1016.0L1664.3,1016.0L1665.9,1015.6L1667.6,1015.2L1669.4,1014.8L1671.1,1014.9L1672.9,1015.0L1674.8,1015.0L1676.6,1014.8L1678.4,1014.7L1680.2,1014.5L1682.0,1014.4L1683.7,1014.2L1685.4,1014.0L1687.1,1013.6L1688.7,1013.3L1690.3,1013.1L1691.8,1013.0L1693.4,1012.8L1694.9,1012.8L1696.5,1012.8L1698.1,1012.9L1699.6,1012.9L1701.2,1012.9L1702.7,1013.0L1704.3,1013.0L1705.9,1012.7L1707.4,1012.5L1709.0,1012.2L1710.5,1012.1L1712.1,1012.1L1713.6,1012.1L1715.2,1011.9L1716.8,1011.8L1718.3,1011.6L1719.9,1011.4L1721.4,1011.5L1723.0,1011.6L1724.5,1011.6L1726.0,1011.4L1727.5,1011.3L1729.0,1011.2L1730.5,1010.9L1731.9,1010.5L1733.4,1010.1L1734.9,1009.9L1736.4,1009.9L1737.9,1010.0L1739.4,1009.9L1740.9,1009.4L1742.4,1008.9L1743.9,1008.3L1745.4,1008.2L1746.9,1008.3L1748.3,1008.4L1749.8,1008.3L1751.3,1008.1L1752.8,1008.0L1754.3,1007.8L1755.8,1007.3L1757.3,1006.8L1758.8,1006.4L1760.3,1006.2L1761.8,1006.1L1763.3,1006.1L1764.8,1005.9L1766.3,1005.6L1767.8,1005.3L1769.3,1005.0L1770.8,1004.9L1772.3,1004.7L1773.8,1004.6L1775.2,1004.2L1776.7,1003.7L1778.2,1003.2L1779.7,1002.8L1781.2,1002.7L1782.7,1002.6L1784.2,1002.5L1785.7,1002.4L1787.2,1002.4L1788.7,1002.4L1790.2,1002.2L1791.7,1002.0L1793.3,1001.8L1794.8,1001.7L1796.4,1001.5L1797.9,1001.3L1799.5,1001.2L1801.1,1001.1L1802.6,1001.0L1804.2,1001.0L1805.7,1001.3L1807.3,1001.7L1808.9,1002.0L1810.4,1002.1L1812.0,1002.0L1813.5,1001.8L1815.1,1001.9L1816.6,1002.2L1818.2,1002.5L1819.8,1002.6L1821.3,1002.4L1822.9,1002.1L1824.4,1001.9L1826.0,1002.2L1827.6,1002.6L1829.1,1002.9L1830.7,1003.0L1832.2,1003.1L1833.8,1003.2L1835.4,1003.3L1836.9,1003.5L1838.5,1003.6L1840.0,1003.6L1841.6,1003.3L1843.1,1003.1L1844.7,1003.0L1846.3,1003.3L1847.8,1003.5L1849.4,1003.7L1850.9,1003.7L1852.5,1003.7L1854.1,1003.7L1855.6,1004.0L1857.2,1004.3L1858.7,1004.6L1860.3,1004.7L1861.9,1004.6L1863.4,1004.5L1865.0,1004.6L1866.5,1004.9L1868.1,1005.2L1869.7,1005.3L1871.2,1005.2L1872.8,1005.0L1874.4,1004.8L1875.9,1005.0L1877.5,1005.2L1879.1,1005.4L1880.6,1005.4L1882.2,1005.5L1883.8,1005.6L1885.3,1005.4L1886.9,1005.2L1888.5,1005.0L1890.0,1004.9L1891.6,1005.1L1893.1,1005.2L1894.7,1005.3L1896.3,1005.5L1897.8,1005.6L1899.4,1005.7L1900.9,1005.6L1902.5,1005.4L1904.1,1005.2L1905.6,1005.2L1907.2,1005.1L1908.7,1005.0L1910.3,1004.9L1911.8,1004.9L1913.4,1004.8L1915.0,1004.9L1916.5,1005.0L1918.1,1005.2L1919.6,1005.2L1921.2,1005.0L1922.8,1004.7L1924.3,1004.4L1925.9,1004.5L1927.4,1004.5L1929.0,1004.6L1930.5,1004.5L1932.0,1004.4L1933.5,1004.3L1935.0,1004.1L1936.5,1004.0L1938.0,1003.9L1939.5,1003.8L1941.0,1003.5L1942.5,1003.2L1944.0,1002.9L1945.5,1002.8L1946.9,1002.9L1948.4,1002.9L1949.9,1002.9L1951.4,1002.8L1952.9,1002.7L1954.4,1002.6L1955.9,1002.2L1957.4,1001.8L1958.9,1001.4L1960.4,1001.2L1961.9,1001.0L1963.4,1000.8L1964.9,1000.7L1966.4,1000.7L1967.9,1000.7L1969.4,1000.6L1970.9,1000.3L1972.4,999.9L1973.8,999.6L1975.3,999.2L1976.8,998.8L1978.3,998.5L1979.8,998.1L1981.3,997.8L1982.8,997.4L1984.3,997.1L1985.8,997.1L1987.3,997.1L1988.8,997.1L1990.2,996.9L1991.7,996.5L1993.2,996.1L1994.7,995.8L1996.2,995.6L1997.7,995.4L1999.2,995.3L2000.7,995.0L2002.2,994.7L2003.7,994.5L2005.2,994.3L2006.6,994.3L2008.1,994.2L2009.6,994.1L2011.1,994.0L2012.6,993.9L2014.1,993.7L2015.6,993.4L2017.1,993.1L2018.6,992.8L2020.0,992.5L2021.5,992.2L2023.0,992.0L2024.5,991.8L2026.0,992.0L2027.5,992.1L2029.0,992.3L2030.5,992.1L2032.0,991.9L2033.5,991.7L2034.9,991.4L2036.3,990.9L2037.6,990.4L2038.9,989.9L2040.2,989.7L2041.5,989.7L2042.7,989.6L2044.0,989.6L2045.3,989.4L2046.6,989.3L2047.9,989.1L2049.3,988.9L2050.7,988.6L2052.2,988.3L2053.7,988.1L2055.3,987.9L2056.9,987.9L2058.7,987.9L2060.5,987.9L2062.4,987.9L2064.5,987.9L2066.6,987.6L2067.8,987.5L2069.0,987.4L2070.2,987.3L2071.5,987.2L2072.7,987.2L2074.1,987.1L2075.4,987.1L2076.8,987.0L2078.2,987.0L2079.6,987.0L2081.0,987.0L2082.5,987.1L2084.0,987.2L2085.4,987.2L2087.0,987.2L2088.5,987.2L2090.0,987.3L2091.6,987.3L2093.2,987.4L2094.7,987.4L2096.3,987.5L2097.9,987.6L2099.6,987.7L2101.2,988.1L2102.8,988.4L2104.4,988.6L2106.1,988.6L2107.7,988.5L2109.3,988.5L2111.0,988.6L2112.6,988.8L2114.2,988.9L2115.9,989.0L2117.5,989.1L2119.1,989.2L2120.7,989.2L2122.3,989.1L2123.9,989.1L2125.5,988.9L2127.1,988.6L2128.7,988.3L2130.2,988.4L2131.8,988.7L2133.3,989.0L2134.8,989.1L2136.4,988.7L2137.9,988.4L2139.5,988.1L2141.0,988.3L2142.6,988.5L2144.2,988.7L2145.8,988.6L2147.4,988.6L2149.0,988.6L2150.6,988.4L2152.2,988.3L2153.8,988.1L2155.4,987.9L2157.1,987.7L2158.7,987.6L2160.3,987.3L2161.9,987.1L2163.5,986.9L2165.1,986.7L2166.7,986.6L2168.3,986.5L2169.9,986.5L2171.5,986.6L2173.1,986.7L2174.6,986.7L2176.2,986.5L2177.7,986.2L2179.2,985.9L2180.8,985.9L2182.3,985.9L2183.7,985.9L2185.2,985.8L2186.7,985.6L2188.1,985.4L2189.5,985.2L2190.9,985.1L2192.3,984.9L2193.6,984.8L2194.9,984.7L2196.2,984.6L2197.5,984.6L2198.8,984.5L2200.0,984.5L2202.0,984.6L2204.0,984.6L2205.8,984.4L2207.6,984.2L2209.4,983.9L2211.1,983.7L2212.7,983.6L2214.3,983.4L2215.8,983.3L2217.3,983.1L2218.8,983.0L2220.2,982.9L2221.7,982.8L2223.1,982.7L2224.5,982.5L2225.8,982.4L2227.2,982.2L2228.6,982.1L2229.9,981.9L2231.3,981.8L2232.7,981.6L2234.1,981.4L2235.5,981.5L2237.0,981.5L2238.5,981.6L2240.0,981.5L2241.5,981.3L2243.1,981.1L2244.6,980.9L2246.2,980.6L2247.8,980.3L2249.3,980.0L2250.9,980.0L2252.4,979.9L2254.0,979.8L2255.6,979.7L2257.1,979.6L2258.7,979.4L2260.3,979.4L2261.8,979.4L2263.4,979.3L2264.9,979.2L2266.5,979.0L2268.0,978.8L2269.5,978.7L2271.0,978.8L2272.6,979.0L2274.1,979.2L2275.6,979.0L2277.1,978.9L2278.5,978.7L2280.0,978.6L2281.6,978.4L2283.2,978.2L2284.9,978.1L2286.6,978.2L2288.4,978.2L2290.1,978.1L2291.9,977.7L2293.6,977.3L2295.3,977.1L2297.1,977.1L2298.8,977.1L2300.5,977.0L2302.1,977.0L2303.7,977.0L2305.2,976.9L2306.7,976.6L2308.2,976.3L2309.5,976.1L2310.8,976.0L2312.0,975.9L2313.2,975.9L2314.2,975.8L2315.1,975.7L2315.9,975.5" fill="none" stroke="#000000" stroke-width="7.8" stroke-linejoin="round" stroke-linecap="butt"/>
<path d="M1654.3,1036.1L1655.2,1035.8L1656.1,1035.9L1657.2,1036.0L1658.5,1036.1L1659.8,1036.2L1661.2,1036.0L1662.7,1035.9L1664.3,1035.8L1665.9,1035.7L1667.6,1035.6L1669.4,1035.5L1671.1,1035.6L1672.9,1035.7L1674.8,1035.8L1676.6,1035.7L1678.4,1035.7L1680.2,1035.7L1682.0,1035.6L1683.7,1035.5L1685.4,1035.5L1687.1,1035.4L1688.7,1035.4L1690.3,1035.2L1691.8,1035.1L1693.4,1035.0L1694.9,1034.9L1696.5,1034.8L1698.1,1034.7L1699.6,1034.7L1701.2,1034.8L1702.7,1034.9L1704.3,1035.0L1705.9,1034.8L1707.4,1034.5L1709.0,1034.3L1710.5,1034.3L1712.1,1034.3L1713.6,1034.3L1715.2,1034.3L1716.8,1034.2L1718.3,1034.1L1719.9,1034.0L1721.4,1033.9L1723.0,1033.7L1724.5,1033.6L1726.0,1033.4L1727.5,1033.2L1729.0,1033.0L1730.5,1032.6L1731.9,1032.1L1733.4,1031.6L1734.9,1031.2L1736.4,1031.0L1737.9,1030.7L1739.4,1030.5L1740.9,1030.4L1742.4,1030.3L1743.9,1030.2L1745.4,1029.9L1746.9,1029.6L1748.3,1029.2L1749.8,1028.9L1751.3,1028.5L1752.8,1028.1L1754.3,1027.7L1755.8,1027.6L1757.3,1027.5L1758.8,1027.4L1760.3,1027.2L1761.8,1027.0L1763.3,1026.8L1764.8,1026.6L1766.3,1026.2L1767.8,1025.9L1769.3,1025.6L1770.8,1025.1L1772.3,1024.6L1773.8,1024.1L1775.2,1023.7L1776.7,1023.5L1778.2,1023.2L1779.7,1022.9L1781.2,1022.6L1782.7,1022.2L1784.2,1021.9L1785.7,1022.0L1787.2,1022.2L1788.7,1022.3L1790.2,1022.1L1791.7,1021.7L1793.3,1021.3L1794.8,1021.1L1796.4,1021.2L1797.9,1021.3L1799.5,1021.4L1801.1,1021.3L1802.6,1021.1L1804.2,1021.0L1805.7,1021.0L1807.3,1021.0L1808.9,1021.1L1810.4,1021.1L1812.0,1021.1L1813.5,1021.1L1815.1,1021.2L1816.6,1021.3L1818.2,1021.5L1819.8,1021.6L1821.3,1021.6L1822.9,1021.6L1824.4,1021.6L1826.0,1021.6L1827.5,1021.6L1829.0,1021.6L1830.5,1021.7L1832.0,1021.7L1833.5,1021.8L1834.9,1022.0L1836.4,1022.3L1837.9,1022.7L1839.4,1023.0L1840.9,1023.4L1842.4,1023.7L1843.9,1024.1L1845.4,1024.2L1846.9,1024.1L1848.4,1024.0L1849.9,1024.1L1851.3,1024.5L1852.8,1024.9L1854.3,1025.3L1855.8,1025.5L1857.3,1025.7L1858.8,1025.8L1860.3,1025.8L1861.8,1025.8L1863.3,1025.8L1864.8,1025.9L1866.3,1026.0L1867.8,1026.2L1869.3,1026.4L1870.8,1026.7L1872.3,1027.0L1873.8,1027.3L1875.3,1027.4L1876.8,1027.5L1878.2,1027.5L1879.7,1027.6L1881.2,1027.7L1882.7,1027.8L1884.2,1027.9L1885.7,1028.0L1887.2,1028.1L1888.7,1028.2L1890.2,1028.2L1891.7,1028.2L1893.2,1028.1L1894.7,1028.1L1896.3,1028.3L1897.8,1028.6L1899.4,1028.8L1900.9,1028.8L1902.5,1028.7L1904.1,1028.7L1905.6,1028.6L1907.2,1028.6L1908.7,1028.5L1910.3,1028.4L1911.8,1028.3L1913.4,1028.2L1915.0,1028.2L1916.5,1028.3L1918.1,1028.4L1919.6,1028.4L1921.2,1028.4L1922.8,1028.3L1924.3,1028.2L1925.9,1028.0L1927.4,1027.8L1929.0,1027.6L1930.5,1027.3L1932.0,1027.1L1933.5,1026.8L1935.0,1026.6L1936.5,1026.5L1938.0,1026.4L1939.5,1026.3L1941.0,1026.2L1942.5,1026.0L1944.0,1025.9L1945.5,1025.7L1946.9,1025.6L1948.4,1025.4L1949.9,1025.3L1951.4,1025.3L1952.9,1025.4L1954.4,1025.4L1955.9,1025.2L1957.4,1024.9L1958.9,1024.7L1960.4,1024.4L1961.9,1024.1L1963.4,1023.7L1964.9,1023.5L1966.4,1023.5L1967.9,1023.5L1969.4,1023.4L1971.0,1023.0L1972.5,1022.6L1974.0,1022.1L1975.5,1021.8L1977.1,1021.6L1978.6,1021.3L1980.1,1020.9L1981.6,1020.6L1983.2,1020.3L1984.7,1019.9L1986.2,1019.6L1987.7,1019.2L1989.1,1018.8L1990.6,1018.5L1992.1,1018.2L1993.5,1017.9L1994.9,1017.7L1996.3,1017.6L1997.7,1017.6L1999.3,1017.6L2000.9,1017.1L2002.3,1016.7L2003.7,1016.4L2005.1,1016.3L2006.4,1016.4L2007.7,1016.6L2009.0,1016.7L2010.3,1016.8L2011.7,1016.9L2013.0,1017.0L2014.5,1017.1L2015.9,1016.9L2017.5,1016.8L2019.1,1016.7L2020.8,1016.8L2022.6,1016.9L2024.6,1017.0L2026.7,1016.6L2027.9,1016.4L2029.1,1016.2L2030.4,1016.2L2031.7,1016.3L2033.0,1016.3L2034.3,1016.4L2035.7,1016.3L2037.1,1016.2L2038.5,1016.1L2040.0,1016.1L2041.4,1016.1L2042.9,1016.2L2044.4,1016.2L2045.9,1016.3L2047.5,1016.4L2049.0,1016.4L2050.6,1016.3L2052.2,1016.0L2053.8,1015.8L2055.4,1015.7L2057.0,1015.8L2058.7,1015.8L2060.3,1015.9L2061.9,1016.1L2063.6,1016.2L2065.2,1016.2L2066.9,1015.9L2068.5,1015.6L2070.2,1015.4L2071.8,1015.3L2073.5,1015.2L2075.1,1015.2L2076.7,1015.5L2078.4,1015.8L2080.0,1015.8L2081.4,1015.6L2082.8,1015.4L2084.3,1015.1L2085.7,1014.9L2087.2,1014.6L2088.6,1014.3L2090.1,1014.2L2091.6,1014.3L2093.0,1014.4L2094.5,1014.5L2096.0,1014.2L2097.5,1014.0L2099.0,1013.7L2100.5,1013.6L2102.0,1013.5L2103.5,1013.3L2105.0,1013.3L2106.5,1013.4L2108.1,1013.5L2109.6,1013.6L2111.1,1013.4L2112.6,1013.3L2114.2,1013.1L2115.7,1012.9L2117.2,1012.7L2118.7,1012.5L2120.3,1012.4L2121.8,1012.3L2123.3,1012.2L2124.8,1012.1L2126.4,1012.0L2127.9,1011.9L2129.4,1011.8L2130.9,1011.7L2132.5,1011.5L2134.0,1011.4L2135.5,1011.2L2137.0,1010.9L2138.5,1010.7L2140.0,1010.6L2141.5,1010.8L2143.0,1010.9L2144.6,1011.0L2146.1,1010.9L2147.6,1010.8L2149.2,1010.8L2150.8,1010.5L2152.3,1010.3L2153.9,1010.1L2155.5,1010.0L2157.0,1009.9L2158.6,1009.8L2160.2,1009.7L2161.8,1009.7L2163.4,1009.7L2165.0,1009.6L2166.5,1009.5L2168.1,1009.3L2169.7,1009.2L2171.2,1009.1L2172.8,1009.0L2174.4,1008.9L2175.9,1009.0L2177.4,1009.1L2179.0,1009.2L2180.5,1009.1L2182.0,1009.0L2183.5,1009.0L2184.9,1008.8L2186.4,1008.4L2187.9,1008.1L2189.3,1007.8L2190.7,1007.7L2192.1,1007.6L2193.5,1007.6L2194.8,1007.6L2196.1,1007.7L2197.5,1007.8L2198.7,1007.9L2200.0,1008.0L2201.9,1007.9L2203.6,1007.9L2205.3,1007.8L2206.9,1007.6L2208.4,1007.5L2209.9,1007.3L2211.3,1007.1L2212.6,1006.9L2213.9,1006.7L2215.2,1006.5L2216.5,1006.4L2217.7,1006.2L2219.0,1006.1L2220.3,1006.2L2221.6,1006.4L2222.9,1006.6L2224.3,1006.7L2225.7,1006.7L2227.2,1006.7L2228.7,1006.6L2230.4,1006.5L2232.1,1006.3L2233.9,1006.2L2235.8,1006.0L2237.8,1005.9L2240.0,1005.8L2241.2,1005.8L2242.4,1005.8L2243.7,1005.8L2245.1,1005.7L2246.5,1005.5L2247.9,1005.2L2249.4,1005.0L2250.9,1005.1L2252.5,1005.1L2254.1,1005.2L2255.7,1004.9L2257.4,1004.5L2259.1,1004.1L2260.8,1003.9L2262.5,1003.8L2264.3,1003.6L2266.0,1003.8L2267.8,1004.0L2269.6,1004.2L2271.4,1004.0L2273.2,1003.8L2275.0,1003.7L2276.8,1003.6L2278.6,1003.6L2280.5,1003.3L2282.2,1002.9L2284.0,1002.5L2285.8,1002.4L2287.5,1002.4L2289.3,1002.4L2291.0,1002.4L2292.7,1002.4L2294.3,1002.4L2296.0,1002.1L2297.6,1001.8L2299.1,1001.5L2300.7,1001.5L2302.2,1001.5L2303.6,1001.5L2305.0,1001.5L2306.4,1001.5L2307.7,1001.5L2308.9,1001.5L2310.1,1001.5L2311.2,1001.6L2312.3,1001.6L2313.3,1001.6L2314.2,1001.6L2315.1,1001.5L2315.9,1001.0" fill="none" stroke="#2553A8" stroke-width="7.8" stroke-linejoin="round" stroke-linecap="butt"/>
<path d="M1654.3,1018.9L1655.2,1019.1L1656.1,1019.1L1657.2,1019.0L1658.5,1019.0L1659.8,1018.9L1661.2,1018.8L1662.7,1018.6L1664.3,1018.4L1665.9,1018.3L1667.6,1018.3L1669.4,1018.2L1671.1,1018.0L1672.9,1017.9L1674.8,1017.8L1676.6,1018.0L1678.4,1018.2L1680.2,1018.1L1682.0,1017.7L1683.7,1017.3L1685.4,1017.1L1687.1,1016.9L1688.7,1016.8L1690.3,1016.7L1691.8,1016.7L1693.4,1016.7L1694.9,1016.6L1696.5,1016.6L1698.1,1016.5L1699.6,1016.4L1701.2,1016.4L1702.7,1016.4L1704.3,1016.3L1705.9,1016.2L1707.4,1016.1L1709.0,1016.1L1710.5,1015.9L1712.1,1015.8L1713.6,1015.6L1715.2,1015.6L1716.8,1015.6L1718.3,1015.6L1719.9,1015.5L1721.4,1015.4L1723.0,1015.3L1724.6,1015.2L1726.1,1015.1L1727.7,1015.1L1729.2,1015.0L1730.8,1014.8L1732.4,1014.5L1733.9,1014.2L1735.5,1013.9L1737.0,1013.7L1738.6,1013.5L1740.1,1013.3L1741.7,1013.2L1743.3,1013.1L1744.8,1013.0L1746.4,1012.9L1747.9,1012.9L1749.5,1012.8L1751.1,1012.6L1752.6,1012.4L1754.2,1012.2L1755.7,1012.1L1757.3,1012.1L1758.8,1012.1L1760.3,1012.0L1761.8,1011.9L1763.3,1011.8L1764.8,1011.6L1766.3,1011.3L1767.8,1011.0L1769.3,1010.7L1770.8,1010.4L1772.3,1010.2L1773.8,1009.9L1775.2,1009.9L1776.7,1009.9L1778.2,1010.0L1779.7,1010.1L1781.2,1010.0L1782.7,1009.9L1784.2,1009.8L1785.7,1009.6L1787.2,1009.4L1788.7,1009.3L1790.2,1009.2L1791.7,1009.3L1793.3,1009.4L1794.8,1009.5L1796.4,1009.4L1797.9,1009.3L1799.5,1009.3L1801.1,1009.6L1802.6,1009.9L1804.2,1010.3L1805.7,1010.4L1807.3,1010.5L1808.9,1010.6L1810.4,1010.7L1812.0,1010.8L1813.5,1011.0L1815.1,1011.2L1816.6,1011.4L1818.2,1011.6L1819.8,1011.7L1821.3,1011.7L1822.9,1011.6L1824.4,1011.5L1826.0,1011.8L1827.5,1012.1L1829.0,1012.4L1830.5,1012.7L1832.0,1013.0L1833.5,1013.2L1834.9,1013.5L1836.4,1013.8L1837.9,1014.0L1839.4,1014.3L1840.9,1014.4L1842.4,1014.5L1843.9,1014.6L1845.4,1014.7L1846.9,1014.9L1848.4,1015.0L1849.9,1015.3L1851.3,1015.7L1852.8,1016.1L1854.3,1016.5L1855.8,1016.6L1857.3,1016.6L1858.8,1016.6L1860.3,1016.9L1861.8,1017.3L1863.3,1017.7L1864.8,1017.9L1866.3,1017.9L1867.8,1017.8L1869.3,1017.7L1870.8,1018.0L1872.3,1018.4L1873.8,1018.7L1875.3,1018.9L1876.8,1019.1L1878.2,1019.3L1879.7,1019.4L1881.2,1019.4L1882.7,1019.4L1884.2,1019.4L1885.7,1019.7L1887.2,1019.9L1888.7,1020.2L1890.2,1020.3L1891.7,1020.4L1893.2,1020.5L1894.7,1020.6L1896.3,1020.6L1897.8,1020.6L1899.4,1020.6L1900.9,1020.9L1902.5,1021.1L1904.1,1021.4L1905.6,1021.4L1907.2,1021.4L1908.7,1021.4L1910.3,1021.4L1911.8,1021.4L1913.4,1021.4L1915.0,1021.3L1916.5,1021.0L1918.1,1020.8L1919.6,1020.5L1921.2,1020.4L1922.8,1020.3L1924.3,1020.2L1925.9,1020.3L1927.4,1020.3L1929.0,1020.4L1930.6,1020.3L1932.1,1020.2L1933.7,1020.0L1935.2,1020.0L1936.8,1020.2L1938.4,1020.3L1939.9,1020.3L1941.5,1020.0L1943.1,1019.8L1944.6,1019.6L1946.2,1019.4L1947.8,1019.2L1949.3,1019.1L1950.9,1019.0L1952.5,1018.9L1954.0,1018.9L1955.6,1018.8L1957.2,1018.7L1958.7,1018.6L1960.3,1018.5L1961.8,1018.5L1963.4,1018.4L1964.9,1018.3L1966.4,1018.0L1967.9,1017.7L1969.4,1017.3L1971.0,1017.1L1972.5,1016.8L1974.0,1016.5L1975.5,1016.3L1977.1,1016.2L1978.6,1016.1L1980.1,1015.7L1981.6,1015.2L1983.2,1014.7L1984.7,1014.3L1986.2,1014.1L1987.7,1013.9L1989.1,1013.7L1990.6,1013.6L1992.1,1013.5L1993.5,1013.5L1994.9,1013.3L1996.3,1013.2L1997.7,1013.0L1999.3,1012.8L2000.9,1012.3L2002.5,1011.8L2004.0,1011.4L2005.4,1011.1L2006.9,1010.9L2008.3,1010.6L2009.7,1010.5L2011.1,1010.4L2012.6,1010.4L2014.0,1010.4L2015.4,1010.3L2016.9,1010.2L2018.4,1010.1L2020.0,1009.8L2021.6,1009.5L2023.2,1009.1L2024.9,1008.9L2026.7,1009.0L2028.0,1009.0L2029.3,1009.1L2030.7,1009.0L2032.0,1008.9L2033.3,1008.8L2034.6,1008.7L2035.9,1008.6L2037.3,1008.5L2038.7,1008.5L2040.0,1008.4L2041.4,1008.4L2042.8,1008.5L2044.3,1008.5L2045.8,1008.5L2047.3,1008.6L2048.8,1008.6L2050.4,1008.7L2052.0,1008.8L2053.6,1008.9L2055.3,1008.9L2057.1,1008.8L2058.9,1008.7L2060.7,1008.8L2062.6,1009.1L2064.6,1009.4L2066.6,1009.6L2067.8,1009.7L2069.1,1009.8L2070.4,1009.8L2071.7,1009.8L2073.1,1009.8L2074.4,1009.8L2075.8,1009.7L2077.3,1009.5L2078.7,1009.4L2080.2,1009.5L2081.7,1009.8L2083.2,1010.0L2084.8,1010.3L2086.3,1010.4L2087.9,1010.4L2089.4,1010.5L2091.0,1010.3L2092.6,1010.2L2094.2,1010.0L2095.9,1010.3L2097.5,1010.5L2099.1,1010.7L2100.7,1010.9L2102.4,1011.1L2104.0,1011.3L2105.6,1011.5L2107.3,1011.7L2108.9,1011.9L2110.5,1012.0L2112.1,1012.1L2113.8,1012.2L2115.4,1012.2L2116.9,1012.1L2118.5,1012.1L2120.1,1012.1L2121.6,1012.2L2123.2,1012.3L2124.7,1012.4L2126.2,1012.6L2127.6,1012.8L2129.1,1013.0L2130.5,1012.8L2131.9,1012.6L2133.3,1012.4L2135.0,1012.4L2136.7,1012.5L2138.3,1012.7L2140.0,1012.8L2141.6,1012.7L2143.2,1012.5L2144.8,1012.6L2146.4,1012.9L2148.0,1013.2L2149.5,1013.5L2151.0,1013.5L2152.6,1013.5L2154.1,1013.5L2155.6,1013.4L2157.1,1013.3L2158.6,1013.1L2160.0,1013.1L2161.5,1013.1L2163.0,1013.2L2164.5,1013.2L2165.9,1013.3L2167.4,1013.5L2168.8,1013.6L2170.3,1013.7L2171.8,1013.8L2173.2,1013.9L2174.7,1013.9L2176.1,1013.7L2177.6,1013.5L2179.1,1013.3L2180.6,1013.3L2182.1,1013.4L2183.6,1013.5L2185.1,1013.5L2186.6,1013.6L2188.1,1013.7L2189.6,1013.7L2191.1,1013.6L2192.6,1013.4L2194.0,1013.3L2195.5,1013.5L2196.9,1013.6L2198.3,1013.8L2199.8,1013.9L2201.2,1013.8L2202.6,1013.7L2204.0,1013.6L2205.5,1013.6L2206.9,1013.6L2208.3,1013.6L2209.7,1013.6L2211.2,1013.4L2212.6,1013.3L2214.1,1013.1L2215.5,1013.0L2217.0,1013.0L2218.5,1012.9L2220.0,1012.8L2221.6,1012.6L2223.1,1012.4L2224.7,1012.2L2226.3,1012.3L2227.9,1012.3L2229.5,1012.3L2231.2,1012.2L2232.9,1012.1L2234.6,1012.1L2236.4,1012.0L2238.2,1012.0L2240.0,1011.9L2241.3,1011.7L2242.7,1011.6L2244.1,1011.4L2245.5,1011.6L2247.0,1011.8L2248.5,1012.1L2250.1,1012.1L2251.7,1011.8L2253.3,1011.5L2255.0,1011.3L2256.6,1011.4L2258.3,1011.5L2260.0,1011.6L2261.8,1011.8L2263.5,1011.9L2265.3,1011.9L2267.0,1011.7L2268.8,1011.5L2270.6,1011.5L2272.4,1011.6L2274.2,1011.8L2276.0,1011.5L2277.7,1011.2L2279.5,1010.9L2281.3,1011.0L2283.0,1011.1L2284.8,1011.1L2286.5,1011.0L2288.2,1011.0L2289.9,1010.9L2291.6,1010.8L2293.2,1010.8L2294.9,1010.8L2296.4,1010.7L2298.0,1010.7L2299.5,1010.7L2301.0,1010.7L2302.5,1010.7L2303.9,1010.7L2305.2,1010.8L2306.5,1010.9L2307.8,1011.0L2309.0,1011.1L2310.2,1011.1L2311.3,1011.2L2312.3,1011.2L2313.3,1011.2L2314.2,1011.2L2315.1,1011.0L2315.9,1010.6" fill="none" stroke="#FF1A22" stroke-width="7.8" stroke-linejoin="round" stroke-linecap="butt"/>
<path d="M1654.3,980.4L1655.2,980.9L1656.1,980.9L1657.2,980.9L1658.5,981.0L1659.8,981.0L1661.2,981.1L1662.7,981.3L1664.3,981.4L1665.9,981.6L1667.6,981.8L1669.4,981.9L1671.1,981.8L1672.9,981.6L1674.8,981.6L1676.6,981.9L1678.4,982.2L1680.2,982.4L1682.0,982.7L1683.7,982.9L1685.4,983.0L1687.1,983.2L1688.7,983.3L1690.3,983.3L1691.8,983.3L1693.4,983.3L1694.9,983.3L1696.5,983.3L1698.1,983.3L1699.6,983.4L1701.2,983.6L1702.7,983.9L1704.3,984.1L1705.9,984.5L1707.4,984.8L1709.0,985.2L1710.5,985.1L1712.1,984.9L1713.6,984.6L1715.2,984.6L1716.8,984.8L1718.3,984.9L1719.9,985.1L1721.4,985.3L1723.0,985.5L1724.6,985.7L1726.1,985.4L1727.7,985.1L1729.2,984.8L1730.8,984.6L1732.4,984.4L1733.9,984.1L1735.5,983.9L1737.0,983.8L1738.6,983.6L1740.1,983.6L1741.7,983.6L1743.3,983.6L1744.8,983.4L1746.4,983.0L1747.9,982.6L1749.5,982.3L1751.1,982.1L1752.6,982.0L1754.2,981.9L1755.7,981.9L1757.3,981.9L1758.9,981.9L1760.4,981.9L1762.0,981.9L1763.5,981.9L1765.1,981.8L1766.7,981.7L1768.2,981.5L1769.8,981.4L1771.4,981.2L1772.9,981.1L1774.5,980.9L1776.1,981.1L1777.6,981.3L1779.2,981.5L1780.8,981.4L1782.3,981.2L1783.9,981.0L1785.5,981.0L1787.0,981.1L1788.6,981.2L1790.1,981.3L1791.7,981.4L1793.3,981.5L1794.8,981.6L1796.4,981.9L1797.9,982.2L1799.5,982.4L1801.1,982.3L1802.6,982.3L1804.2,982.2L1805.7,982.5L1807.3,982.7L1808.9,983.0L1810.4,983.0L1812.0,983.0L1813.5,982.9L1815.1,983.0L1816.6,983.1L1818.2,983.2L1819.8,983.4L1821.3,983.5L1822.9,983.6L1824.4,983.8L1826.0,984.2L1827.5,984.6L1829.0,985.1L1830.5,985.3L1832.0,985.6L1833.5,985.9L1834.9,986.0L1836.4,986.0L1837.9,986.0L1839.4,986.0L1840.9,986.2L1842.4,986.5L1843.9,986.7L1845.4,986.9L1846.9,987.1L1848.4,987.2L1849.9,987.5L1851.3,988.0L1852.8,988.4L1854.3,988.9L1855.8,989.0L1857.3,989.1L1858.8,989.3L1860.3,989.4L1861.8,989.6L1863.3,989.8L1864.8,990.1L1866.3,990.5L1867.8,991.0L1869.3,991.4L1870.8,991.7L1872.3,992.0L1873.8,992.2L1875.3,992.5L1876.8,992.7L1878.2,992.9L1879.7,993.1L1881.2,993.3L1882.7,993.4L1884.2,993.6L1885.7,994.0L1887.2,994.4L1888.7,994.8L1890.2,995.1L1891.7,995.2L1893.2,995.4L1894.7,995.6L1896.3,995.7L1897.8,995.8L1899.4,995.9L1900.9,996.0L1902.5,996.0L1904.1,996.1L1905.6,996.4L1907.2,996.8L1908.7,997.2L1910.3,997.4L1911.8,997.5L1913.4,997.6L1915.0,997.6L1916.5,997.6L1918.1,997.6L1919.6,997.7L1921.2,997.8L1922.8,998.0L1924.3,998.2L1925.9,998.0L1927.4,997.9L1929.0,997.7L1930.6,997.6L1932.1,997.5L1933.7,997.4L1935.2,997.3L1936.8,997.1L1938.4,997.0L1939.9,997.0L1941.5,997.1L1943.1,997.2L1944.6,997.2L1946.2,997.1L1947.8,996.9L1949.3,996.8L1950.9,996.6L1952.5,996.5L1954.0,996.3L1955.6,996.3L1957.2,996.4L1958.7,996.5L1960.3,996.4L1961.8,996.2L1963.4,995.9L1964.9,995.6L1966.4,995.2L1967.9,994.8L1969.4,994.3L1971.0,994.4L1972.5,994.4L1974.0,994.5L1975.5,994.0L1977.1,993.5L1978.6,992.9L1980.1,992.6L1981.6,992.6L1983.2,992.6L1984.7,992.5L1986.2,992.2L1987.7,991.8L1989.1,991.5L1990.6,991.4L1992.1,991.3L1993.5,991.3L1994.9,991.3L1996.3,991.2L1997.7,991.2L1999.3,991.1L2000.9,990.9L2002.5,990.6L2004.0,990.4L2005.4,990.4L2006.9,990.5L2008.3,990.5L2009.7,990.5L2011.1,990.3L2012.6,990.1L2014.0,989.9L2015.4,990.0L2016.9,990.3L2018.4,990.5L2020.0,990.6L2021.6,990.4L2023.2,990.2L2024.9,990.2L2026.7,990.3L2028.1,990.5L2029.4,990.6L2030.9,990.5L2032.4,990.5L2033.9,990.4L2035.4,990.4L2037.0,990.3L2038.6,990.2L2040.2,990.3L2041.9,990.5L2043.5,990.8L2045.1,990.8L2046.8,990.6L2048.4,990.3L2050.1,990.2L2051.7,990.3L2053.3,990.4L2054.9,990.4L2056.5,990.4L2058.1,990.4L2059.6,990.4L2061.1,990.7L2062.5,991.0L2063.9,991.3L2065.3,991.3L2066.6,991.3L2068.4,991.3L2070.1,991.4L2071.7,991.5L2073.2,991.6L2074.6,991.8L2076.0,992.1L2077.3,992.3L2078.6,992.6L2079.9,992.9L2081.2,993.3L2082.6,993.7L2083.9,994.0L2085.3,994.4L2086.7,994.8L2088.2,995.2L2089.8,995.5L2091.5,995.5L2093.3,995.5L2094.6,995.6L2095.9,995.7L2097.3,995.9L2098.7,996.0L2100.2,996.3L2101.6,996.7L2103.1,997.0L2104.6,997.4L2106.2,997.4L2107.7,997.5L2109.3,997.6L2110.9,997.6L2112.5,997.6L2114.1,997.5L2115.7,997.7L2117.3,997.9L2118.9,998.1L2120.6,998.1L2122.2,998.2L2123.8,998.2L2125.4,998.4L2127.0,998.5L2128.6,998.7L2130.2,998.8L2131.8,999.0L2133.3,999.1L2134.8,999.2L2136.4,999.3L2137.9,999.3L2139.5,999.3L2141.0,999.4L2142.5,999.5L2144.1,999.6L2145.6,999.7L2147.2,999.8L2148.7,999.9L2150.2,1000.0L2151.8,1000.1L2153.3,1000.2L2154.8,1000.3L2156.4,1000.5L2157.9,1000.6L2159.5,1000.8L2161.0,1001.0L2162.5,1001.2L2164.1,1001.4L2165.6,1001.4L2167.2,1001.3L2168.7,1001.3L2170.2,1001.3L2171.8,1001.3L2173.3,1001.3L2174.8,1001.2L2176.3,1001.1L2177.8,1001.0L2179.3,1000.9L2180.8,1001.1L2182.2,1001.2L2183.7,1001.3L2185.1,1001.5L2186.6,1001.7L2188.0,1001.9L2189.5,1002.0L2190.9,1002.0L2192.4,1002.0L2193.9,1001.9L2195.4,1002.1L2196.9,1002.3L2198.4,1002.5L2199.9,1002.6L2201.5,1002.7L2203.1,1002.8L2204.7,1002.8L2206.3,1002.6L2208.0,1002.4L2209.7,1002.3L2211.4,1002.3L2213.2,1002.4L2214.5,1002.5L2215.9,1002.5L2217.3,1002.5L2218.7,1002.5L2220.2,1002.6L2221.6,1002.8L2223.1,1003.0L2224.6,1003.1L2226.1,1003.0L2227.6,1002.8L2229.1,1002.6L2230.7,1002.7L2232.2,1002.8L2233.8,1003.0L2235.4,1003.2L2236.9,1003.5L2238.5,1003.7L2240.1,1003.8L2241.7,1003.7L2243.3,1003.5L2244.9,1003.5L2246.5,1003.8L2248.1,1004.1L2249.7,1004.2L2251.2,1004.0L2252.8,1003.9L2254.4,1003.7L2256.0,1003.9L2257.5,1004.1L2259.1,1004.3L2260.6,1004.2L2262.1,1004.1L2263.6,1004.0L2265.1,1003.9L2266.6,1003.8L2268.2,1003.6L2269.9,1003.6L2271.6,1003.8L2273.3,1004.0L2275.0,1004.0L2276.8,1003.9L2278.6,1003.7L2280.4,1003.8L2282.2,1004.1L2284.0,1004.4L2285.8,1004.3L2287.6,1004.2L2289.3,1004.1L2291.1,1004.0L2292.9,1003.9L2294.6,1003.8L2296.3,1003.9L2298.0,1004.1L2299.6,1004.1L2301.2,1003.9L2302.8,1003.8L2304.3,1003.6L2305.7,1003.7L2307.1,1003.8L2308.5,1003.9L2309.8,1003.9L2311.0,1003.9L2312.1,1003.8L2313.2,1003.7L2314.2,1003.6L2315.1,1003.5L2315.9,1003.3" fill="none" stroke="#06803C" stroke-width="7.8" stroke-linejoin="round" stroke-linecap="butt"/>
<path d="M1654.0,629.6L1654.8,628.9L1655.8,628.8L1656.9,628.7L1658.1,628.5L1659.4,628.3L1660.8,627.8L1662.3,627.3L1663.8,626.8L1665.4,626.2L1667.1,625.6L1668.8,625.0L1670.5,624.3L1672.2,623.6L1673.9,623.0L1675.6,622.9L1677.3,622.8L1678.9,622.8L1680.5,622.5L1682.0,622.2L1683.6,621.9L1685.1,621.6L1686.7,621.2L1688.4,620.8L1690.0,620.5L1691.6,620.4L1693.2,620.3L1694.8,620.0L1696.4,619.8L1698.0,619.5L1699.6,619.3L1701.2,619.0L1702.7,618.8L1704.2,618.6L1705.7,618.7L1707.2,618.8L1708.6,618.9L1710.0,618.9L1711.7,618.9L1713.4,618.8L1715.1,618.3L1716.7,617.7L1718.3,617.1L1719.9,617.0L1721.4,617.2L1722.9,617.3L1724.4,617.4L1725.8,616.8L1727.2,616.4L1728.5,615.9L1729.8,615.8L1731.1,615.8L1732.9,615.8L1734.6,615.8L1736.2,615.8L1737.6,615.8L1739.0,616.0L1740.4,617.0L1741.9,618.1L1743.4,619.5L1745.1,620.7L1746.1,621.3L1747.1,621.9L1748.2,622.7L1749.2,623.5L1750.3,624.5L1751.4,625.6L1752.5,626.8L1753.6,628.0L1754.8,629.1L1755.9,630.2L1757.0,631.3L1758.1,632.4L1759.3,633.6L1760.4,634.6L1761.5,635.6L1762.6,636.7L1763.5,637.6L1764.4,638.6L1765.3,639.9L1766.2,641.2L1767.1,642.6L1768.1,644.0L1769.0,645.4L1769.9,646.8L1770.9,648.2L1771.8,649.6L1772.7,651.0L1773.6,652.4L1774.5,653.6L1775.4,654.8L1776.2,655.9L1777.0,657.0L1777.9,658.0L1778.6,659.0L1779.4,660.2L1780.1,661.4L1781.3,663.5L1782.4,665.5L1783.5,667.5L1784.4,669.0L1785.3,670.2L1786.2,671.3L1787.1,672.3L1787.9,673.2L1788.8,674.0L1789.7,674.8L1790.6,675.5L1792.1,676.4L1793.5,677.0L1794.9,677.7L1796.4,678.3L1797.8,678.7L1799.4,678.6L1801.1,677.7L1802.2,676.9L1803.4,676.0L1804.7,675.4L1805.9,675.1L1807.2,674.6L1808.5,674.1L1809.9,673.0L1811.2,671.6L1812.5,670.1L1813.8,668.5L1815.1,667.0L1815.9,666.1L1816.7,665.0L1817.6,663.9L1818.4,662.7L1819.2,661.4L1820.0,660.0L1820.9,658.6L1821.7,657.2L1822.5,655.7L1823.3,654.2L1824.2,652.7L1825.0,651.2L1825.8,649.8L1826.6,648.4L1827.5,647.0L1828.3,645.6L1829.1,644.3L1829.9,642.8L1830.6,641.4L1831.4,640.0L1832.1,638.5L1832.9,637.0L1833.6,635.5L1834.4,634.1L1835.1,632.6L1835.9,631.2L1836.6,629.8L1837.4,628.3L1838.2,626.9L1839.0,625.5L1839.7,624.4L1840.6,623.3L1841.4,622.2L1842.2,621.2L1843.1,620.2L1844.0,619.3L1844.9,617.9L1845.7,616.5L1846.6,615.1L1847.5,613.7L1848.4,612.4L1849.4,611.3L1850.3,610.4L1851.2,609.5L1852.2,608.6L1853.2,607.7L1854.2,606.7L1855.2,605.3L1856.3,603.9L1857.3,602.5L1858.4,601.0L1859.5,599.7L1860.7,598.7L1861.6,598.0L1862.5,597.2L1863.5,596.4L1864.4,595.4L1865.4,594.2L1866.4,593.0L1867.4,591.8L1868.5,590.5L1869.5,589.3L1870.6,588.0L1871.7,586.7L1872.7,585.4L1873.8,584.1L1874.9,582.8L1876.0,581.6L1877.0,580.4L1878.1,579.2L1879.2,578.0L1880.2,576.7L1881.2,575.5L1882.3,574.3L1883.3,573.1L1884.2,572.0L1885.2,571.0L1886.4,569.8L1887.5,568.6L1888.7,567.5L1889.8,566.1L1890.9,564.6L1892.0,563.2L1893.0,561.8L1894.1,560.5L1895.2,559.5L1896.2,558.6L1897.3,557.6L1898.4,556.7L1899.4,555.8L1900.5,554.9L1901.6,554.1L1902.7,553.2L1903.9,552.4L1905.0,551.2L1906.2,549.9L1907.4,548.6L1908.6,547.4L1909.9,546.6L1911.2,546.1L1912.5,545.5L1913.8,545.0L1915.1,544.2L1916.4,543.3L1917.8,542.4L1919.1,541.5L1920.5,540.4L1921.8,539.4L1923.1,538.3L1924.4,537.4L1925.7,536.6L1927.0,535.9L1928.3,535.1L1929.5,534.4L1930.7,533.8L1932.2,533.0L1933.7,532.2L1935.2,531.3L1936.6,530.5L1938.1,529.7L1939.5,529.0L1940.9,528.6L1942.3,528.2L1943.7,527.9L1945.1,527.1L1946.4,526.3L1947.8,525.5L1949.1,524.8L1950.4,524.3L1951.7,523.9L1953.4,523.5L1955.0,523.4L1956.6,523.5L1958.2,523.8L1959.7,524.3L1961.2,525.1L1962.7,526.0L1964.3,526.9L1965.8,527.8L1967.5,528.7L1969.2,529.6L1970.4,530.0L1971.7,530.5L1973.0,531.0L1974.3,531.6L1975.6,532.4L1977.0,533.3L1978.4,534.3L1979.8,535.3L1981.1,536.3L1982.5,537.3L1983.9,538.3L1985.2,539.4L1986.5,540.4L1987.8,541.5L1989.1,542.4L1990.3,543.0L1991.7,543.7L1993.0,544.4L1994.4,545.2L1995.7,546.4L1997.0,547.6L1998.2,548.8L1999.5,549.9L2000.7,550.8L2002.0,551.7L2003.2,552.5L2004.3,553.3L2005.5,554.0L2006.7,554.7L2007.8,555.2L2009.5,555.9L2011.0,556.2L2012.5,556.3L2013.9,556.4L2015.3,556.5L2016.7,556.5L2018.3,556.4L2019.9,556.2L2021.8,555.8L2022.9,555.6L2024.2,555.2L2025.4,555.0L2026.8,554.7L2028.1,554.4L2029.5,553.8L2030.9,552.7L2032.4,551.6L2033.8,550.5L2035.2,549.8L2036.6,549.1L2038.0,548.4L2039.4,547.6L2040.7,546.7L2041.9,545.8L2043.1,544.9L2044.6,543.8L2046.0,542.8L2047.4,541.7L2048.7,540.7L2050.0,539.7L2051.3,538.7L2052.5,537.7L2053.7,536.8L2054.9,536.1L2056.1,535.4L2057.3,534.8L2058.5,534.2L2059.7,533.3L2060.8,532.4L2061.9,531.5L2063.0,530.6L2064.1,529.6L2065.2,528.5L2066.3,527.4L2067.4,526.2L2068.5,524.9L2069.6,523.7L2070.7,522.6L2071.9,521.3L2072.7,520.4L2073.5,519.4L2074.4,518.2L2075.2,517.0L2076.1,515.7L2077.0,514.4L2077.8,513.0L2078.7,511.6L2079.6,510.2L2080.5,508.9L2081.4,507.6L2082.2,506.3L2083.1,505.0L2084.0,503.7L2084.8,502.4L2085.7,501.2L2086.5,500.1L2087.3,499.0L2088.4,497.6L2089.5,496.2L2090.5,494.7L2091.5,493.3L2092.5,491.9L2093.5,490.6L2094.6,489.6L2095.6,488.7L2096.6,487.9L2097.6,487.0L2098.6,486.1L2099.7,485.0L2100.8,483.7L2101.7,482.5L2102.6,481.4L2103.6,480.2L2104.6,478.8L2105.5,477.4L2106.5,476.0L2107.5,474.6L2108.5,473.1L2109.5,471.8L2110.5,470.7L2111.5,469.5L2112.4,468.4L2113.4,467.4L2114.4,466.3L2115.3,465.1L2116.2,463.9L2117.5,462.4L2118.7,461.0L2119.9,459.8L2121.1,458.7L2122.3,457.6L2123.5,456.6L2124.7,455.6L2125.9,454.6L2127.1,453.6L2128.3,452.5L2129.6,451.5L2130.7,450.9L2131.8,450.2L2132.9,449.5L2134.1,448.8L2135.2,447.6L2136.4,446.3L2137.5,444.9L2138.7,443.6L2139.9,442.4L2141.1,441.3L2142.4,440.1L2143.7,438.9L2145.0,437.9L2146.0,437.3L2147.0,436.6L2148.0,435.9L2149.0,435.1L2150.1,434.1L2151.1,432.9L2152.2,431.8L2153.3,430.7L2154.4,429.5L2155.5,428.2L2156.6,426.9L2157.7,425.7L2158.8,424.4L2159.9,423.4L2161.0,422.5L2162.0,421.6L2163.1,420.7L2164.2,419.8L2165.4,418.4L2166.6,416.9L2167.8,415.5L2169.0,414.2L2170.2,413.3L2171.4,412.4L2172.6,411.6L2173.8,410.8L2175.1,409.9L2176.3,408.9L2177.5,408.0L2178.7,407.1L2179.9,406.3L2181.1,405.4L2182.3,404.5L2183.5,403.6L2184.7,402.6L2185.9,401.5L2187.2,400.4L2188.4,399.2L2189.6,398.1L2190.9,397.1L2192.1,396.0L2193.3,395.0L2194.6,394.0L2195.8,393.2L2197.0,392.3L2198.2,391.5L2199.3,390.8L2200.5,390.2L2201.6,389.6L2202.7,389.0L2204.1,388.3L2205.5,387.4L2206.9,386.6L2208.2,385.9L2209.5,385.1L2210.8,384.3L2212.0,383.4L2213.3,382.6L2214.5,381.7L2215.7,380.8L2216.9,379.9L2218.1,378.9L2219.3,377.8L2220.4,376.7L2221.5,375.5L2222.5,374.4L2223.5,373.2L2224.6,372.2L2225.6,371.4L2226.7,370.6L2227.8,369.9L2228.9,369.2L2230.2,368.0L2231.5,366.8L2232.7,365.8L2234.0,364.8L2235.4,364.1L2236.9,363.4L2238.4,362.8L2239.9,361.8L2241.4,360.7L2242.9,359.6L2244.4,358.6L2245.8,358.1L2247.2,357.6L2248.5,357.1L2249.7,356.8L2250.8,356.6L2252.9,356.3L2254.6,356.3L2256.0,356.1L2257.3,355.8L2258.7,355.4L2260.4,354.4L2261.4,353.8L2262.4,353.0L2263.4,352.1L2264.5,351.1L2265.6,349.9L2266.7,348.6L2267.9,347.3L2269.0,346.0L2270.2,344.8L2271.4,343.5L2272.6,342.3L2273.8,341.2L2274.9,340.2L2276.1,339.3L2277.3,338.4L2278.5,337.4L2279.8,336.5L2281.0,335.6L2282.2,334.7L2283.5,333.8L2284.7,332.8L2285.9,331.6L2287.0,330.4L2288.1,329.4L2289.2,328.4L2290.8,327.5L2292.3,326.8L2293.6,326.2L2295.0,325.5L2296.3,324.8L2297.7,323.9L2299.2,322.9L2300.8,322.0L2301.8,321.4L2303.0,320.6L2304.2,319.7L2305.4,318.2L2306.7,316.6L2308.1,314.9L2309.4,313.5L2310.7,312.6L2311.9,311.8L2313.0,310.9L2314.1,310.2L2315.0,309.4L2315.9,308.7L2316.5,307.5" fill="none" stroke="#C0C0C0" stroke-width="7.8" stroke-linejoin="round" stroke-linecap="butt"/>
<line x1="367.5" y1="210" x2="367.5" y2="1166" stroke="#b2b2b2" stroke-width="1.4" stroke-dasharray="4 6.4"/>
<line x1="592.2" y1="210" x2="592.2" y2="1166" stroke="#b2b2b2" stroke-width="1.4" stroke-dasharray="4 6.4"/>
<line x1="1085.9" y1="210" x2="1085.9" y2="1169" stroke="#b2b2b2" stroke-width="1.4" stroke-dasharray="4 6.4"/>
<line x1="1311.9" y1="210" x2="1311.9" y2="1169" stroke="#b2b2b2" stroke-width="1.4" stroke-dasharray="4 6.4"/>
<line x1="1804.6" y1="214" x2="1804.6" y2="1169" stroke="#b2b2b2" stroke-width="1.4" stroke-dasharray="4 6.4"/>
<line x1="2021.8" y1="214" x2="2021.8" y2="1169" stroke="#b2b2b2" stroke-width="1.4" stroke-dasharray="4 6.4"/>
<rect x="219.4" y="203.8" width="654.6" height="963.7" fill="none" stroke="#000" stroke-width="3.8"/>
<rect x="928.9" y="204.2" width="658.5000000000001" height="966.3" fill="none" stroke="#000" stroke-width="3.8"/>
<rect x="1652.8" y="209.4" width="664.3999999999999" height="961.6" fill="none" stroke="#000" stroke-width="3.8"/>
<line x1="219.4" y1="1167.5" x2="219.4" y2="1190.5" stroke="#000" stroke-width="3.8" /><line x1="437.9" y1="1167.5" x2="437.9" y2="1190.5" stroke="#000" stroke-width="3.8" /><line x1="655.3" y1="1167.5" x2="655.3" y2="1190.5" stroke="#000" stroke-width="3.8" /><line x1="873.6" y1="1167.5" x2="873.6" y2="1190.5" stroke="#000" stroke-width="3.8" /><line x1="329" y1="1167.5" x2="329" y2="1180.0" stroke="#000" stroke-width="3.8" /><line x1="547.1" y1="1167.5" x2="547.1" y2="1180.0" stroke="#000" stroke-width="3.8" /><line x1="765.2" y1="1167.5" x2="765.2" y2="1180.0" stroke="#000" stroke-width="3.8" />
<line x1="1038.9" y1="1170.5" x2="1038.9" y2="1193.5" stroke="#000" stroke-width="3.8" /><line x1="1269" y1="1170.5" x2="1269" y2="1193.5" stroke="#000" stroke-width="3.8" /><line x1="1500" y1="1170.5" x2="1500" y2="1193.5" stroke="#000" stroke-width="3.8" /><line x1="1153.6" y1="1170.5" x2="1153.6" y2="1183.0" stroke="#000" stroke-width="3.8" /><line x1="1384.6" y1="1170.5" x2="1384.6" y2="1183.0" stroke="#000" stroke-width="3.8" />
<line x1="1652.8" y1="1171.0" x2="1652.8" y2="1194.0" stroke="#000" stroke-width="3.8" /><line x1="1874" y1="1171.0" x2="1874" y2="1194.0" stroke="#000" stroke-width="3.8" /><line x1="2095" y1="1171.0" x2="2095" y2="1194.0" stroke="#000" stroke-width="3.8" /><line x1="2315.7" y1="1171.0" x2="2315.7" y2="1194.0" stroke="#000" stroke-width="3.8" /><line x1="1763.8" y1="1171.0" x2="1763.8" y2="1183.5" stroke="#000" stroke-width="3.8" /><line x1="1984.5" y1="1171.0" x2="1984.5" y2="1183.5" stroke="#000" stroke-width="3.8" /><line x1="2206.5" y1="1171.0" x2="2206.5" y2="1183.5" stroke="#000" stroke-width="3.8" />
<rect x="925.9" y="679" width="6" height="15" fill="#fff"/><line x1="905.5" y1="687.2" x2="952.5" y2="669.2" stroke="#000" stroke-width="3.4" stroke-linecap="butt"/><line x1="905.5" y1="702.6" x2="952.5" y2="686.4" stroke="#000" stroke-width="3.4" stroke-linecap="butt"/>
<rect x="1584.4" y="679" width="6" height="15.299999999999955" fill="#fff"/><line x1="1563.9" y1="687.2" x2="1610.4" y2="669.2" stroke="#000" stroke-width="3.4" stroke-linecap="butt"/><line x1="1563.9" y1="702.6" x2="1610.4" y2="686.2" stroke="#000" stroke-width="3.4" stroke-linecap="butt"/>
<rect x="1649.8" y="681.9" width="6" height="16.5" fill="#fff"/><line x1="1629.9" y1="690.6" x2="1676.4" y2="673.1" stroke="#000" stroke-width="3.4" stroke-linecap="butt"/><line x1="1629.9" y1="706.1" x2="1676.4" y2="689.6" stroke="#000" stroke-width="3.4" stroke-linecap="butt"/>
<rect x="2314.2" y="681.2" width="6" height="17.799999999999955" fill="#fff"/><line x1="2292.8" y1="690.6" x2="2340" y2="672.8" stroke="#000" stroke-width="3.4" stroke-linecap="butt"/><line x1="2292.8" y1="706.1" x2="2340" y2="689.3" stroke="#000" stroke-width="3.4" stroke-linecap="butt"/>
<text transform="matrix(0.9697 0 0 1 141.10 1258.00)" font-family='"Liberation Sans", Arial, Helvetica, sans-serif' font-weight="normal" font-size="76.29" letter-spacing="-1.54" fill="#000">2200</text>
<text transform="matrix(0.9707 0 0 1 359.30 1258.00)" font-family='"Liberation Sans", Arial, Helvetica, sans-serif' font-weight="normal" font-size="76.29" letter-spacing="-2.13" fill="#000">2000</text>
<text transform="matrix(0.9724 0 0 1 576.74 1258.00)" font-family='"Liberation Sans", Arial, Helvetica, sans-serif' font-weight="normal" font-size="76.29" letter-spacing="-3.18" fill="#000"><tspan font-family="IPAGothic" baseline-shift="-0.05em" textLength="0.5583em" lengthAdjust="spacingAndGlyphs">1</tspan>800</text>
<text transform="matrix(0.9732 0 0 1 777.03 1258.00)" font-family='"Liberation Sans", Arial, Helvetica, sans-serif' font-weight="normal" font-size="76.29" letter-spacing="-2.63" fill="#000"><tspan font-family="IPAGothic" baseline-shift="-0.05em" textLength="0.5655em" lengthAdjust="spacingAndGlyphs">1</tspan>600</text>
<text transform="matrix(0.9715 0 0 1 960.78 1261.20)" font-family='"Liberation Sans", Arial, Helvetica, sans-serif' font-weight="normal" font-size="78.57" letter-spacing="-4.89" fill="#000">2<tspan font-family="IPAGothic" baseline-shift="-0.05em" textLength="0.5377em" lengthAdjust="spacingAndGlyphs">1</tspan>00</text>
<text transform="matrix(0.9719 0 0 1 1189.43 1261.20)" font-family='"Liberation Sans", Arial, Helvetica, sans-serif' font-weight="normal" font-size="78.57" letter-spacing="-4.22" fill="#000"><tspan font-family="IPAGothic" baseline-shift="-0.05em" textLength="0.5463em" lengthAdjust="spacingAndGlyphs">1</tspan>890</text>
<text transform="matrix(0.9719 0 0 1 1418.83 1261.20)" font-family='"Liberation Sans", Arial, Helvetica, sans-serif' font-weight="normal" font-size="78.57" letter-spacing="-4.22" fill="#000"><tspan font-family="IPAGothic" baseline-shift="-0.05em" textLength="0.5463em" lengthAdjust="spacingAndGlyphs">1</tspan>680</text>
<text transform="matrix(0.9698 0 0 1 1597.20 1262.80)" font-family='"Liberation Sans", Arial, Helvetica, sans-serif' font-weight="normal" font-size="78.43" letter-spacing="-3.41" fill="#000">2200</text>
<text transform="matrix(0.9689 0 0 1 1794.90 1262.80)" font-family='"Liberation Sans", Arial, Helvetica, sans-serif' font-weight="normal" font-size="78.43" letter-spacing="-3.07" fill="#000">2000</text>
<text transform="matrix(0.9741 0 0 1 2013.82 1262.80)" font-family='"Liberation Sans", Arial, Helvetica, sans-serif' font-weight="normal" font-size="78.43" letter-spacing="-3.58" fill="#000"><tspan font-family="IPAGothic" baseline-shift="-0.05em" textLength="0.5544em" lengthAdjust="spacingAndGlyphs">1</tspan>800</text>
<text transform="matrix(0.9741 0 0 1 2235.12 1262.80)" font-family='"Liberation Sans", Arial, Helvetica, sans-serif' font-weight="normal" font-size="78.43" letter-spacing="-3.58" fill="#000"><tspan font-family="IPAGothic" baseline-shift="-0.05em" textLength="0.5544em" lengthAdjust="spacingAndGlyphs">1</tspan>600</text>
<text transform="translate(135.00 1031.05) rotate(-90) scale(0.9353 1)" font-family='"Liberation Sans", Arial, Helvetica, sans-serif' font-weight="normal" font-size="138.10" letter-spacing="-5.97" fill="#000">Absorbance</text>
<text transform="matrix(0.9403 0 0 1 743.75 1425.70)" font-family='"Liberation Sans", Arial, Helvetica, sans-serif' font-weight="normal" font-size="137.25" letter-spacing="-4.89" fill="#000">Wavenumber / cm</text>
<text font-family='"Liberation Sans", Arial, Helvetica, sans-serif' font-weight="normal" fill="#000"><tspan x="1707.52" y="1362.94" font-size="83.75" textLength="30.18" lengthAdjust="spacingAndGlyphs">-</tspan><tspan x="1727.49" y="1365.19" font-size="81.71" font-family='IPAGothic, "Liberation Sans", sans-serif' textLength="58.38" lengthAdjust="spacingAndGlyphs">1</tspan></text>
<text font-family='"Liberation Sans", Arial, Helvetica, sans-serif' font-weight="normal" fill="#000"><tspan x="226.40" y="291.25" font-size="105.45" textLength="29.41" lengthAdjust="spacingAndGlyphs">(</tspan><tspan x="258.65" y="298.98" font-size="111.64" textLength="51.25" lengthAdjust="spacingAndGlyphs">a</tspan><tspan x="319.30" y="291.25" font-size="105.45" textLength="29.97" lengthAdjust="spacingAndGlyphs">)</tspan></text>
<text font-family='"Liberation Sans", Arial, Helvetica, sans-serif' font-weight="normal" fill="#000"><tspan x="930.60" y="293.91" font-size="106.63" textLength="30.54" lengthAdjust="spacingAndGlyphs">(</tspan><tspan x="963.85" y="300.32" font-size="117.82" textLength="68.84" lengthAdjust="spacingAndGlyphs">b</tspan><tspan x="1034.08" y="293.91" font-size="106.63" textLength="30.61" lengthAdjust="spacingAndGlyphs">)</tspan></text>
<text font-family='"Liberation Sans", Arial, Helvetica, sans-serif' font-weight="normal" fill="#000"><tspan x="1661.50" y="297.79" font-size="105.78" textLength="30.54" lengthAdjust="spacingAndGlyphs">(</tspan><tspan x="1693.92" y="305.30" font-size="110.18" textLength="53.14" lengthAdjust="spacingAndGlyphs">c</tspan><tspan x="1750.88" y="297.79" font-size="105.78" textLength="30.61" lengthAdjust="spacingAndGlyphs">)</tspan></text>
<line x1="636.8" y1="223" x2="636.8" y2="490.9" stroke="#000" stroke-width="3" />
<text transform="matrix(0.9692 0 0 1 661.91 358.30)" font-family='"Liberation Sans", Arial, Helvetica, sans-serif' font-weight="normal" font-size="61.57" letter-spacing="-2.72" fill="#000">0.05 a.u.</text>
<line x1="1337.1" y1="490.4" x2="1337.1" y2="752" stroke="#000" stroke-width="3" />
<text transform="matrix(0.9693 0 0 1 1347.11 629.70)" font-family='"Liberation Sans", Arial, Helvetica, sans-serif' font-weight="normal" font-size="61.57" letter-spacing="-2.56" fill="#000">0.05 a.u.</text>
<line x1="2065.5" y1="608.6" x2="2065.5" y2="869.5" stroke="#000" stroke-width="3" />
<text transform="matrix(0.9697 0 0 1 2084.02 727.00)" font-family='"Liberation Sans", Arial, Helvetica, sans-serif' font-weight="normal" font-size="58.86" letter-spacing="-1.26" fill="#000">0.05 a.u.</text>
<text transform="translate(358.90 575.90) rotate(-90) scale(0.9411 1)" font-family='"Liberation Sans", Arial, Helvetica, sans-serif' font-weight="normal" font-size="63.48" letter-spacing="-3.83" fill="#C0C0C0">W-O-W</text>
<text transform="translate(581.80 566.90) rotate(-90) scale(0.9405 1)" font-family='"Liberation Sans", Arial, Helvetica, sans-serif' font-weight="normal" font-size="62.90" letter-spacing="-3.35" fill="#C0C0C0">W-O-W</text>
<text transform="translate(1059.10 862.20) rotate(-90) scale(0.9400 1)" font-family='"Liberation Sans", Arial, Helvetica, sans-serif' font-weight="normal" font-size="63.62" letter-spacing="-3.98" fill="#C0C0C0">W-O-W</text>
<text transform="translate(1287.70 847.90) rotate(-90) scale(0.9409 1)" font-family='"Liberation Sans", Arial, Helvetica, sans-serif' font-weight="normal" font-size="63.77" letter-spacing="-3.86" fill="#C0C0C0">W-O-W</text>
<text transform="translate(1767.80 537.80) rotate(-90) scale(0.9400 1)" font-family='"Liberation Sans", Arial, Helvetica, sans-serif' font-weight="normal" font-size="63.48" letter-spacing="-4.28" fill="#C0C0C0">W-O-W</text>
<text transform="translate(1993.00 508.70) rotate(-90) scale(0.9398 1)" font-family='"Liberation Sans", Arial, Helvetica, sans-serif' font-weight="normal" font-size="63.91" letter-spacing="-4.64" fill="#C0C0C0">W-O-W</text>
<rect x="377.3" y="646.1" width="5" height="113.6" fill="#C0C0C0"/><polygon points="369.3,758.7 390.3,758.7 379.8,799.9" fill="#C0C0C0"/>
<rect x="610.9" y="636.8" width="5" height="113.0" fill="#C0C0C0"/><polygon points="602.8,748.8 624.0,748.8 613.4,791.0" fill="#C0C0C0"/>
<rect x="1094.6" y="285.5" width="5" height="113.6" fill="#C0C0C0"/><polygon points="1086.9,398.1 1107.3,398.1 1097.1,439.3" fill="#C0C0C0"/>
<rect x="1320.1" y="291.0" width="5" height="113.0" fill="#C0C0C0"/><polygon points="1311.9,403.0 1333.3,403.0 1322.6,444.8" fill="#C0C0C0"/>
<rect x="1101.0" y="867.0" width="5" height="113.0" fill="#C0C0C0"/><polygon points="1092.7,979.0 1114.3,979.0 1103.5,1021.7" fill="#C0C0C0"/>
<rect x="1327.3" y="869.2" width="5" height="113.1" fill="#C0C0C0"/><polygon points="1319.0,981.3 1340.6,981.3 1329.8,1024.4" fill="#C0C0C0"/>
<rect x="1821.0" y="393.9" width="5" height="114.1" fill="#C0C0C0"/><polygon points="1813.1,507.0 1833.9,507.0 1823.5,548.0" fill="#C0C0C0"/>
<rect x="2040.3" y="386.9" width="5" height="113.1" fill="#C0C0C0"/><polygon points="2031.9,499.0 2053.7,499.0 2042.8,541.0" fill="#C0C0C0"/>
<rect x="1825.9" y="878.8" width="5" height="86.9" fill="#C0C0C0"/><polygon points="1817.9,879.8 1838.9,879.8 1828.4,840.3" fill="#C0C0C0"/>
<rect x="2037.9" y="887.4" width="5" height="86.8" fill="#C0C0C0"/><polygon points="2030.1,888.4 2050.7,888.4 2040.4,849.0" fill="#C0C0C0"/>
<line x1="1870.6" y1="730.5" x2="1849" y2="665" stroke="#000" stroke-width="3.3" />
<polygon points="1841.5,637.7 1844.4,672.7 1860,668.6" fill="#000"/>
<text transform="matrix(0.9717 0 0 1 1829.96 776.80)" font-family='"Liberation Sans", Arial, Helvetica, sans-serif' font-weight="normal" font-size="59.71" letter-spacing="-1.38" fill="#000">Rh</text>
<text transform="matrix(1.0643 0 0 1 1899.16 747.84)" font-family='"Liberation Sans", Arial, Helvetica, sans-serif' font-weight="normal" font-size="36.20" fill="#000">0</text>
<text transform="matrix(0.9695 0 0 1 1917.43 776.80)" font-family='"Liberation Sans", Arial, Helvetica, sans-serif' font-weight="normal" font-size="58.86" letter-spacing="-0.18" fill="#000">-CO</text>
</svg></body></html>
